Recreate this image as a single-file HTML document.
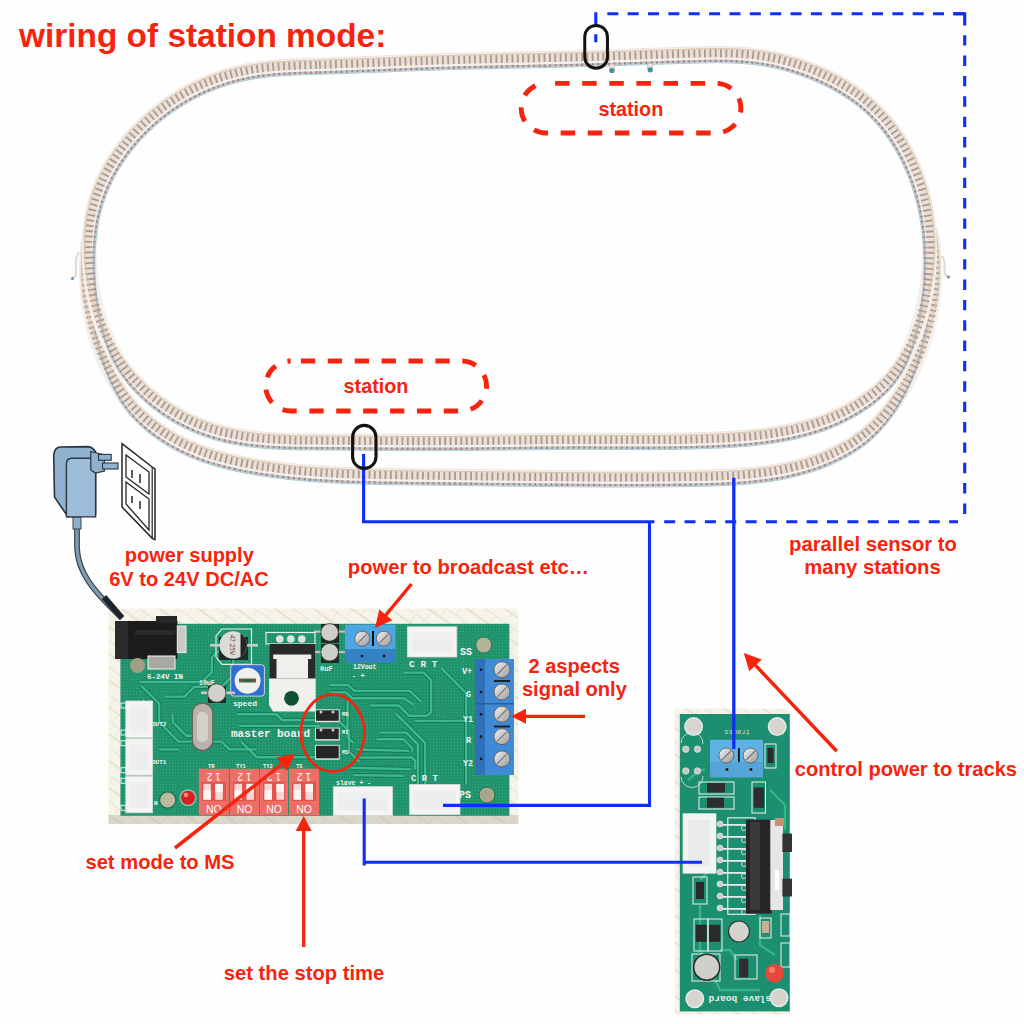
<!DOCTYPE html>
<html><head><meta charset="utf-8"><title>wiring of station mode</title>
<style>html,body{margin:0;padding:0;background:#fff;width:1024px;height:1024px;overflow:hidden}svg{display:block}</style>
</head><body><svg width="1024" height="1024" viewBox="0 0 1024 1024"><defs>
<pattern id="matp" width="22" height="22" patternUnits="userSpaceOnUse" patternTransform="rotate(35)">
<rect width="22" height="22" fill="#f6f4ea"/>
<path d="M0,0 L22,0 M0,11 L22,11" stroke="#e4dec2" stroke-width="1.5"/>
<path d="M11,0 L11,11 M0,11 L0,22" stroke="#ebe6d2" stroke-width="1.1"/>
</pattern>
<pattern id="dots" width="3" height="3" patternUnits="userSpaceOnUse">
<rect width="3" height="3" fill="#21936c"/><rect x="1" y="1" width="1" height="1" fill="#32a880"/>
</pattern>
<linearGradient id="scr" x1="0" y1="0" x2="1" y2="1"><stop offset="0" stop-color="#f2f2f2"/><stop offset="1" stop-color="#9a9a9a"/></linearGradient>
</defs><rect width="1024" height="1024" fill="#fefefe"/><path d="M90.2,232.2 L89.5,236.2 L88.8,240.1 L88.3,244.0 L87.8,248.0 L87.4,251.9 L87.0,255.9 L86.8,259.8 L86.6,263.8 L86.4,267.8 L86.4,271.8 L86.4,275.8 L86.5,279.7 L86.7,283.7 L86.9,287.7 L87.2,291.7 L87.6,295.6 L88.0,299.6 L88.5,303.5 L89.1,307.5 L89.7,311.4 L90.4,315.3 L91.2,319.3 L92.1,323.2 L93.0,327.0 L94.0,330.9 L95.1,334.8 L96.2,338.6 L97.4,342.4 L98.7,346.2 L100.0,350.0 L101.4,353.7 L102.9,357.4 L104.4,361.1 L106.0,364.8 L107.7,368.4 L109.5,372.1 L111.3,375.6 L113.2,379.2 L115.2,382.7 L117.2,386.1 L119.3,389.5 L121.5,392.9 L123.8,396.2 L126.1,399.5 L128.6,402.7 L131.1,405.8 L133.8,408.9 L136.5,411.9 L139.4,414.7 L142.3,417.5 L145.3,420.2 L148.3,422.9 L151.5,425.4 L154.7,427.9 L157.9,430.3 L161.2,432.6 L164.6,434.8 L168.0,436.9 L171.4,439.0 L174.9,441.0 L178.5,442.9 L182.1,444.8 L185.7,446.6 L189.4,448.2 L193.1,449.8 L196.8,451.4 L200.5,452.8 L204.3,454.2 L208.1,455.5 L212.0,456.7 L215.8,457.9 L219.7,459.0 L223.6,460.1 L227.5,461.1 L231.4,462.0 L235.3,462.9 L239.2,463.8 L243.1,464.6 L247.1,465.3 L251.0,466.0 L255.0,466.7 L258.9,467.4 L262.9,468.0 L266.9,468.6 L270.8,469.2 L274.8,469.7 L278.8,470.2 L282.8,470.7 L286.8,471.2 L290.7,471.6 L294.7,472.0 L298.7,472.4 L302.7,472.8 L306.7,473.1 L310.7,473.4 L314.7,473.7 L318.7,474.0 L322.7,474.3 L326.7,474.5 L330.7,474.7 L334.7,474.9 L338.7,475.1 L342.7,475.3 L346.7,475.5 L350.7,475.6 L354.7,475.8 L358.7,475.9 L362.7,476.0 L366.7,476.1 L370.7,476.2 L374.7,476.3 L378.7,476.4 L382.7,476.5 L386.7,476.5 L390.7,476.6 L394.7,476.7 L398.7,476.7 L402.7,476.8 L406.7,476.8 L410.7,476.9 L414.7,476.9 L418.7,477.0 L422.7,477.0 L426.7,477.1 L430.7,477.1 L434.7,477.2 L438.7,477.2 L442.7,477.3 L446.7,477.3 L450.7,477.4 L454.7,477.4 L458.7,477.5 L462.7,477.5 L466.7,477.6 L470.7,477.6 L474.7,477.7 L478.7,477.7 L482.7,477.8 L486.7,477.8 L490.7,477.9 L494.7,477.9 L498.7,478.0 L502.7,478.0 L506.7,478.1 L510.7,478.1 L514.7,478.1 L518.7,478.2 L522.7,478.2 L526.7,478.3 L530.7,478.3 L534.7,478.4 L538.7,478.4 L542.7,478.4 L546.7,478.5 L550.7,478.5 L554.7,478.6 L558.7,478.6 L562.7,478.6 L566.7,478.7 L570.7,478.7 L574.7,478.7 L578.7,478.8 L582.7,478.8 L586.7,478.8 L590.7,478.8 L594.7,478.9 L598.7,478.9 L602.7,478.9 L606.7,478.9 L610.7,478.9 L614.7,478.9 L618.7,478.9 L622.7,479.0 L626.7,479.0 L630.7,479.0 L634.7,478.9 L638.7,478.9 L642.7,478.9 L646.7,478.9 L650.7,478.9 L654.7,478.9 L658.7,478.8 L662.7,478.8 L666.7,478.8 L670.7,478.7 L674.7,478.7 L678.7,478.6 L682.7,478.6 L686.7,478.5 L690.8,478.4 L694.8,478.4 L698.8,478.3 L702.8,478.2 L706.8,478.1 L710.8,478.0 L714.8,477.9 L718.8,477.7 L722.8,477.6 L726.8,477.4 L730.8,477.2 L734.8,476.9 L738.8,476.7 L742.8,476.4 L746.8,476.0 L750.8,475.7 L754.8,475.3 L758.8,474.8 L762.8,474.3 L766.7,473.8 L770.7,473.2 L774.7,472.6 L778.6,471.9 L782.6,471.1 L786.5,470.3 L790.5,469.5 L794.4,468.6 L798.3,467.6 L802.2,466.5 L806.0,465.4 L809.9,464.2 L813.7,462.9 L817.5,461.6 L821.3,460.2 L825.0,458.7 L828.7,457.1 L832.4,455.4 L836.1,453.7 L839.7,451.9 L843.2,450.0 L846.7,448.0 L850.2,446.0 L853.6,443.8 L857.0,441.5 L860.2,439.2 L863.4,436.7 L866.6,434.2 L869.6,431.5 L872.6,428.8 L875.5,425.9 L878.2,423.0 L881.0,420.0 L883.6,417.0 L886.1,413.9 L888.6,410.7 L891.1,407.5 L893.4,404.2 L895.7,400.9 L897.9,397.6 L900.1,394.2 L902.2,390.7 L904.2,387.3 L906.1,383.8 L908.0,380.2 L909.8,376.6 L911.6,373.0 L913.3,369.4 L914.9,365.7 L916.5,362.1 L918.0,358.3 L919.4,354.6 L920.8,350.9 L922.1,347.1 L923.4,343.3 L924.6,339.5 L925.7,335.6 L926.8,331.8 L927.8,327.9 L928.7,324.0 L929.6,320.1 L930.4,316.2 L931.1,312.3 L931.7,308.4 L932.3,304.4 L932.9,300.5 L933.3,296.5 L933.7,292.5 L934.0,288.6 L934.2,284.6 L934.4,280.6 L934.5,276.6 L934.5,272.7 L934.4,268.7 L934.3,264.7 L934.1,260.7 L933.8,256.8 L933.4,252.8 L933.0,248.9 L932.5,244.9 L931.9,241.0 L931.2,237.1 L930.5,233.2 L929.6,229.3" fill="none" stroke="#f4efea" stroke-width="15" stroke-linejoin="round"/><path d="M83.1,231.0 L82.4,235.0 L81.8,239.0 L81.3,243.1 L80.9,247.2 L80.6,251.3 L80.4,255.4 L80.2,259.5 L80.2,263.6 L80.2,267.7 L80.3,271.8 L80.5,275.9 L80.8,280.0 L81.2,284.0 L81.7,288.1 L82.2,292.1 L82.9,296.2 L83.6,300.2 L84.4,304.2 L85.3,308.1 L86.3,312.1 L87.4,316.0 L88.5,319.9 L89.8,323.7 L91.1,327.5 L92.5,331.3 L94.0,335.1 L95.5,338.8 L97.2,342.5 L98.8,346.1 L100.6,349.7 L102.4,353.3 L104.3,356.8 L106.2,360.3 L108.2,363.8 L110.2,367.2 L112.3,370.6 L114.4,373.9 L116.6,377.2 L118.9,380.5 L121.1,383.7 L123.5,386.8 L125.9,389.9 L128.3,393.0 L130.8,395.9 L133.4,398.8 L136.1,401.6 L138.7,404.3 L141.5,407.0 L144.3,409.7 L147.2,412.2 L150.1,414.7 L153.1,417.1 L156.1,419.5 L159.2,421.8 L162.3,424.0 L165.5,426.2 L168.8,428.3 L172.1,430.3 L175.4,432.3 L178.7,434.2 L182.1,436.0 L185.6,437.7 L189.1,439.4 L192.6,441.0 L196.1,442.5 L199.7,444.0 L203.3,445.4 L207.0,446.7 L210.7,447.9 L214.4,449.1 L218.1,450.2 L221.8,451.3 L225.6,452.3 L229.4,453.3 L233.2,454.2 L237.0,455.1 L240.9,455.9 L244.7,456.7 L248.6,457.4 L252.4,458.1 L256.3,458.8 L260.2,459.5 L264.1,460.1 L268.0,460.7 L272.0,461.2 L275.9,461.7 L279.8,462.3 L283.7,462.7 L287.7,463.2 L291.6,463.6 L295.5,464.0 L299.5,464.4 L303.4,464.8 L307.4,465.1 L311.3,465.4 L315.3,465.7 L319.2,466.0 L323.2,466.2 L327.2,466.5 L331.1,466.7 L335.1,466.9 L339.1,467.1 L343.0,467.3 L347.0,467.4 L351.0,467.6 L355.0,467.7 L359.0,467.9 L362.9,468.0 L366.9,468.1 L370.9,468.2 L374.9,468.3 L378.9,468.3 L382.9,468.4 L386.9,468.5 L390.8,468.6 L394.8,468.6 L398.8,468.7 L402.8,468.7 L406.8,468.8 L410.8,468.8 L414.8,468.9 L418.8,468.9 L422.8,469.0 L426.8,469.0 L430.8,469.1 L434.8,469.1 L438.8,469.2 L442.8,469.2 L446.8,469.3 L450.8,469.3 L454.8,469.4 L458.8,469.4 L462.8,469.5 L466.8,469.5 L470.8,469.6 L474.8,469.6 L478.8,469.7 L482.8,469.7 L486.8,469.8 L490.8,469.8 L494.8,469.9 L498.8,469.9 L502.8,469.9 L506.8,470.0 L510.8,470.0 L514.8,470.1 L518.8,470.1 L522.8,470.2 L526.8,470.2 L530.8,470.3 L534.8,470.3 L538.8,470.3 L542.8,470.4 L546.8,470.4 L550.8,470.5 L554.8,470.5 L558.8,470.5 L562.8,470.6 L566.8,470.6 L570.8,470.6 L574.8,470.7 L578.8,470.7 L582.8,470.7 L586.8,470.8 L590.8,470.8 L594.8,470.8 L598.8,470.8 L602.8,470.8 L606.8,470.9 L610.7,470.9 L614.7,470.9 L618.7,470.9 L622.7,470.9 L626.7,470.9 L630.7,470.9 L634.7,470.9 L638.7,470.9 L642.7,470.9 L646.7,470.8 L650.7,470.8 L654.7,470.8 L658.7,470.8 L662.7,470.7 L666.7,470.7 L670.7,470.7 L674.6,470.6 L678.6,470.6 L682.6,470.5 L686.6,470.4 L690.6,470.4 L694.6,470.3 L698.6,470.2 L702.6,470.1 L706.6,470.0 L710.5,469.9 L714.5,469.8 L718.5,469.7 L722.4,469.5 L726.4,469.3 L730.3,469.1 L734.3,468.9 L738.2,468.6 L742.2,468.4 L746.1,468.0 L750.0,467.7 L753.9,467.3 L757.8,466.8 L761.7,466.4 L765.6,465.8 L769.5,465.3 L773.4,464.7 L777.2,464.0 L781.1,463.3 L784.9,462.5 L788.7,461.7 L792.5,460.8 L796.2,459.8 L800.0,458.8 L803.7,457.7 L807.4,456.6 L811.1,455.4 L814.8,454.1 L818.4,452.7 L822.0,451.3 L825.6,449.8 L829.1,448.3 L832.6,446.6 L836.0,444.9 L839.5,443.1 L842.8,441.3 L846.1,439.3 L849.4,437.3 L852.6,435.2 L855.7,433.0 L858.8,430.8 L861.8,428.4 L864.8,426.0 L867.6,423.5 L870.5,420.9 L873.3,418.3 L876.0,415.5 L878.6,412.7 L881.3,409.8 L883.8,406.9 L886.4,403.9 L888.8,400.9 L891.3,397.8 L893.6,394.7 L896.0,391.6 L898.3,388.4 L900.5,385.1 L902.7,381.8 L904.9,378.5 L907.0,375.2 L909.1,371.8 L911.1,368.3 L913.0,364.9 L914.9,361.4 L916.8,357.8 L918.6,354.3 L920.3,350.7 L922.0,347.0 L923.7,343.4 L925.3,339.7 L926.8,336.0 L928.2,332.2 L929.6,328.4 L930.9,324.6 L932.2,320.7 L933.3,316.8 L934.4,312.9 L935.4,309.0 L936.3,305.0 L937.2,301.1 L937.9,297.0 L938.6,293.0 L939.2,289.0 L939.6,284.9 L940.0,280.8 L940.3,276.8 L940.5,272.7 L940.7,268.6 L940.7,264.5 L940.6,260.4 L940.5,256.3 L940.2,252.2 L939.9,248.1 L939.4,244.0 L938.9,239.9 L938.3,235.8 L937.6,231.8 L936.8,227.8" fill="none" stroke="#e4dcd6" stroke-width="0.8" stroke-linejoin="round"/><path d="M88.9,232.0 L88.2,235.9 L87.5,239.9 L87.0,243.9 L86.5,247.8 L86.1,251.8 L85.8,255.8 L85.6,259.8 L85.4,263.8 L85.3,267.8 L85.3,271.8 L85.3,275.8 L85.4,279.8 L85.6,283.8 L85.9,287.8 L86.3,291.7 L86.7,295.7 L87.2,299.7 L87.7,303.7 L88.4,307.6 L89.1,311.5 L89.9,315.5 L90.7,319.4 L91.7,323.3 L92.7,327.1 L93.7,331.0 L94.9,334.8 L96.1,338.6 L97.3,342.4 L98.7,346.2 L100.1,349.9 L101.6,353.6 L103.1,357.3 L104.8,361.0 L106.4,364.6 L108.2,368.2 L110.0,371.8 L111.9,375.3 L113.8,378.8 L115.9,382.3 L117.9,385.7 L120.1,389.0 L122.3,392.4 L124.6,395.6 L127.0,398.8 L129.5,402.0 L132.0,405.1 L134.7,408.1 L137.4,411.0 L140.3,413.8 L143.2,416.5 L146.2,419.2 L149.2,421.8 L152.3,424.3 L155.5,426.7 L158.7,429.1 L162.0,431.4 L165.3,433.6 L168.7,435.7 L172.2,437.8 L175.6,439.8 L179.2,441.7 L182.7,443.5 L186.3,445.2 L190.0,446.9 L193.6,448.5 L197.3,450.0 L201.1,451.4 L204.8,452.8 L208.6,454.1 L212.4,455.3 L216.2,456.5 L220.1,457.6 L223.9,458.6 L227.8,459.6 L231.7,460.6 L235.6,461.5 L239.5,462.3 L243.4,463.1 L247.4,463.9 L251.3,464.6 L255.2,465.3 L259.2,465.9 L263.1,466.5 L267.1,467.1 L271.0,467.7 L275.0,468.2 L279.0,468.8 L283.0,469.2 L286.9,469.7 L290.9,470.1 L294.9,470.5 L298.9,470.9 L302.8,471.3 L306.8,471.6 L310.8,471.9 L314.8,472.2 L318.8,472.5 L322.8,472.8 L326.8,473.0 L330.8,473.3 L334.8,473.5 L338.8,473.7 L342.8,473.8 L346.8,474.0 L350.8,474.1 L354.8,474.3 L358.7,474.4 L362.7,474.5 L366.7,474.6 L370.7,474.7 L374.7,474.8 L378.7,474.9 L382.7,475.0 L386.7,475.1 L390.7,475.1 L394.7,475.2 L398.7,475.2 L402.7,475.3 L406.7,475.3 L410.7,475.4 L414.7,475.4 L418.7,475.5 L422.7,475.5 L426.7,475.6 L430.7,475.6 L434.7,475.7 L438.7,475.7 L442.7,475.8 L446.7,475.8 L450.7,475.9 L454.7,475.9 L458.7,476.0 L462.7,476.0 L466.7,476.1 L470.7,476.1 L474.7,476.2 L478.7,476.2 L482.7,476.3 L486.7,476.3 L490.7,476.4 L494.7,476.4 L498.7,476.5 L502.7,476.5 L506.7,476.6 L510.7,476.6 L514.7,476.7 L518.7,476.7 L522.7,476.7 L526.7,476.8 L530.7,476.8 L534.7,476.9 L538.7,476.9 L542.7,476.9 L546.7,477.0 L550.7,477.0 L554.7,477.1 L558.7,477.1 L562.7,477.1 L566.7,477.2 L570.7,477.2 L574.7,477.2 L578.7,477.3 L582.7,477.3 L586.7,477.3 L590.7,477.4 L594.7,477.4 L598.7,477.4 L602.7,477.4 L606.7,477.4 L610.7,477.4 L614.7,477.4 L618.7,477.5 L622.7,477.5 L626.7,477.5 L630.7,477.5 L634.7,477.5 L638.7,477.4 L642.7,477.4 L646.7,477.4 L650.7,477.4 L654.7,477.4 L658.7,477.3 L662.7,477.3 L666.7,477.3 L670.7,477.2 L674.7,477.2 L678.7,477.1 L682.7,477.1 L686.7,477.0 L690.7,476.9 L694.7,476.9 L698.7,476.8 L702.7,476.7 L706.7,476.6 L710.7,476.5 L714.7,476.4 L718.7,476.2 L722.7,476.1 L726.7,475.9 L730.7,475.7 L734.7,475.4 L738.7,475.2 L742.7,474.9 L746.7,474.6 L750.6,474.2 L754.6,473.8 L758.6,473.4 L762.6,472.9 L766.5,472.3 L770.5,471.7 L774.4,471.1 L778.4,470.4 L782.3,469.7 L786.2,468.9 L790.1,468.0 L794.0,467.1 L797.9,466.1 L801.8,465.1 L805.6,464.0 L809.4,462.8 L813.2,461.5 L817.0,460.2 L820.7,458.8 L824.5,457.3 L828.1,455.7 L831.8,454.1 L835.4,452.4 L839.0,450.6 L842.5,448.7 L846.0,446.8 L849.4,444.7 L852.8,442.6 L856.1,440.4 L859.4,438.0 L862.6,435.6 L865.7,433.1 L868.7,430.5 L871.7,427.8 L874.5,425.0 L877.3,422.1 L880.0,419.2 L882.7,416.2 L885.2,413.1 L887.7,410.0 L890.2,406.8 L892.6,403.6 L894.9,400.3 L897.1,397.0 L899.3,393.7 L901.4,390.3 L903.5,386.9 L905.5,383.4 L907.4,379.9 L909.3,376.4 L911.1,372.8 L912.9,369.2 L914.6,365.6 L916.2,361.9 L917.8,358.3 L919.3,354.6 L920.7,350.8 L922.1,347.1 L923.5,343.3 L924.7,339.5 L925.9,335.7 L927.1,331.9 L928.1,328.0 L929.1,324.1 L930.0,320.2 L930.9,316.3 L931.7,312.4 L932.4,308.5 L933.1,304.5 L933.7,300.6 L934.2,296.6 L934.6,292.6 L934.9,288.6 L935.2,284.7 L935.4,280.7 L935.6,276.7 L935.6,272.7 L935.6,268.7 L935.5,264.7 L935.3,260.7 L935.0,256.7 L934.7,252.7 L934.3,248.7 L933.8,244.7 L933.2,240.8 L932.5,236.8 L931.8,232.9 L931.0,229.0" fill="none" stroke="#eddfd1" stroke-width="8.2" stroke-linejoin="round"/><path d="M95.6,233.2 L94.9,237.1 L94.2,240.9 L93.6,244.7 L93.1,248.5 L92.6,252.4 L92.1,256.2 L91.8,260.1 L91.5,264.0 L91.2,267.9 L91.0,271.8 L90.9,275.7 L90.8,279.6 L90.8,283.5 L90.9,287.4 L91.0,291.3 L91.2,295.2 L91.4,299.1 L91.6,303.1 L92.0,307.0 L92.3,310.9 L92.8,314.8 L93.3,318.8 L93.8,322.7 L94.5,326.6 L95.1,330.6 L95.9,334.5 L96.7,338.4 L97.6,342.3 L98.5,346.3 L99.5,350.2 L100.6,354.0 L101.8,357.9 L103.1,361.8 L104.4,365.6 L105.8,369.4 L107.3,373.2 L108.9,376.9 L110.6,380.7 L112.4,384.3 L114.2,388.0 L116.2,391.6 L118.2,395.2 L120.3,398.8 L122.5,402.3 L124.9,405.7 L127.4,409.1 L130.0,412.4 L132.7,415.5 L135.6,418.6 L138.5,421.6 L141.6,424.5 L144.7,427.2 L147.9,429.9 L151.2,432.5 L154.5,435.0 L157.9,437.4 L161.4,439.8 L164.9,442.0 L168.4,444.2 L172.0,446.3 L175.7,448.3 L179.4,450.2 L183.1,452.0 L186.9,453.8 L190.7,455.4 L194.5,457.0 L198.4,458.5 L202.3,460.0 L206.2,461.3 L210.1,462.6 L214.1,463.8 L218.0,464.9 L222.0,466.0 L226.0,467.0 L230.0,468.0 L234.0,468.9 L238.0,469.8 L241.9,470.6 L246.0,471.4 L250.0,472.1 L254.0,472.8 L258.0,473.5 L262.0,474.1 L266.0,474.7 L270.0,475.3 L274.0,475.8 L278.0,476.3 L282.0,476.8 L286.1,477.3 L290.1,477.7 L294.1,478.2 L298.1,478.5 L302.2,478.9 L306.2,479.3 L310.2,479.6 L314.3,479.9 L318.3,480.2 L322.3,480.4 L326.3,480.7 L330.4,480.9 L334.4,481.1 L338.4,481.3 L342.4,481.5 L346.5,481.6 L350.5,481.8 L354.5,481.9 L358.5,482.1 L362.5,482.2 L366.5,482.3 L370.6,482.4 L374.6,482.5 L378.6,482.6 L382.6,482.6 L386.6,482.7 L390.6,482.8 L394.6,482.8 L398.6,482.9 L402.6,482.9 L406.6,483.0 L410.6,483.1 L414.6,483.1 L418.6,483.2 L422.6,483.2 L426.6,483.3 L430.6,483.3 L434.6,483.4 L438.6,483.4 L442.6,483.5 L446.6,483.5 L450.6,483.6 L454.6,483.6 L458.6,483.7 L462.6,483.7 L466.6,483.8 L470.6,483.8 L474.6,483.8 L478.6,483.9 L482.6,483.9 L486.6,484.0 L490.6,484.0 L494.6,484.1 L498.6,484.1 L502.6,484.2 L506.6,484.2 L510.6,484.3 L514.6,484.3 L518.6,484.4 L522.6,484.4 L526.6,484.4 L530.6,484.5 L534.7,484.5 L538.7,484.6 L542.7,484.6 L546.7,484.7 L550.7,484.7 L554.7,484.7 L558.7,484.8 L562.7,484.8 L566.7,484.8 L570.7,484.9 L574.7,484.9 L578.7,484.9 L582.7,485.0 L586.7,485.0 L590.7,485.0 L594.7,485.0 L598.7,485.1 L602.7,485.1 L606.7,485.1 L610.7,485.1 L614.7,485.1 L618.7,485.1 L622.7,485.1 L626.7,485.1 L630.7,485.1 L634.7,485.1 L638.8,485.1 L642.8,485.1 L646.8,485.1 L650.8,485.0 L654.8,485.0 L658.8,485.0 L662.8,485.0 L666.8,484.9 L670.8,484.9 L674.8,484.8 L678.8,484.8 L682.8,484.7 L686.8,484.7 L690.9,484.6 L694.9,484.5 L698.9,484.4 L702.9,484.4 L706.9,484.3 L710.9,484.1 L715.0,484.0 L719.0,483.9 L723.0,483.7 L727.1,483.5 L731.1,483.3 L735.2,483.1 L739.2,482.8 L743.3,482.5 L747.3,482.2 L751.4,481.8 L755.4,481.4 L759.5,480.9 L763.5,480.4 L767.6,479.9 L771.7,479.3 L775.7,478.6 L779.7,477.9 L783.8,477.2 L787.8,476.4 L791.8,475.5 L795.8,474.5 L799.8,473.5 L803.8,472.4 L807.8,471.2 L811.8,470.0 L815.7,468.7 L819.6,467.3 L823.5,465.8 L827.3,464.3 L831.2,462.7 L834.9,461.0 L838.7,459.2 L842.4,457.3 L846.1,455.3 L849.7,453.2 L853.3,451.0 L856.8,448.7 L860.3,446.4 L863.7,443.9 L867.0,441.3 L870.2,438.5 L873.4,435.7 L876.4,432.7 L879.3,429.7 L882.1,426.6 L884.8,423.4 L887.4,420.2 L889.9,416.9 L892.3,413.6 L894.7,410.2 L896.9,406.8 L899.1,403.3 L901.2,399.7 L903.2,396.2 L905.1,392.6 L907.0,388.9 L908.7,385.2 L910.4,381.5 L912.0,377.8 L913.5,374.0 L915.0,370.2 L916.4,366.4 L917.7,362.6 L918.9,358.7 L920.1,354.9 L921.2,351.0 L922.2,347.1 L923.2,343.2 L924.1,339.3 L924.9,335.4 L925.7,331.5 L926.4,327.5 L927.0,323.6 L927.6,319.7 L928.1,315.7 L928.5,311.8 L928.9,307.9 L929.3,303.9 L929.5,300.0 L929.8,296.1 L929.9,292.2 L930.0,288.2 L930.1,284.3 L930.0,280.4 L930.0,276.5 L929.8,272.6 L929.6,268.8 L929.4,264.9 L929.1,261.0 L928.7,257.2 L928.2,253.3 L927.7,249.5 L927.1,245.6 L926.5,241.8 L925.8,238.0 L925.0,234.3 L924.1,230.4" fill="none" stroke="#c6bdbc" stroke-width="2.4" stroke-linejoin="round"/><path d="M97.3,233.5 L96.6,237.4 L95.9,241.1 L95.2,244.9 L94.7,248.7 L94.2,252.5 L93.7,256.4 L93.3,260.2 L93.0,264.0 L92.7,267.9 L92.5,271.7 L92.3,275.6 L92.2,279.5 L92.1,283.4 L92.1,287.3 L92.2,291.2 L92.3,295.1 L92.4,299.0 L92.6,302.9 L92.9,306.8 L93.2,310.8 L93.5,314.7 L93.9,318.6 L94.4,322.6 L94.9,326.5 L95.5,330.5 L96.1,334.4 L96.8,338.4 L97.6,342.3 L98.5,346.3 L99.4,350.2 L100.4,354.1 L101.5,358.1 L102.6,362.0 L103.9,365.8 L105.2,369.7 L106.7,373.5 L108.2,377.3 L109.8,381.1 L111.5,384.9 L113.3,388.6 L115.2,392.3 L117.2,395.9 L119.2,399.5 L121.4,403.1 L123.7,406.6 L126.2,410.1 L128.8,413.4 L131.6,416.7 L134.4,419.8 L137.4,422.8 L140.4,425.8 L143.6,428.6 L146.8,431.3 L150.1,433.9 L153.5,436.5 L156.9,438.9 L160.4,441.3 L163.9,443.6 L167.5,445.8 L171.1,447.9 L174.8,449.9 L178.5,451.8 L182.3,453.7 L186.1,455.5 L190.0,457.2 L193.8,458.8 L197.7,460.3 L201.7,461.7 L205.6,463.1 L209.6,464.4 L213.5,465.6 L217.5,466.7 L221.5,467.8 L225.5,468.9 L229.5,469.8 L233.5,470.7 L237.6,471.6 L241.6,472.4 L245.6,473.2 L249.6,473.9 L253.6,474.7 L257.7,475.3 L261.7,476.0 L265.7,476.6 L269.7,477.1 L273.8,477.7 L277.8,478.2 L281.8,478.7 L285.9,479.2 L289.9,479.6 L293.9,480.0 L298.0,480.4 L302.0,480.8 L306.0,481.1 L310.1,481.5 L314.1,481.8 L318.2,482.0 L322.2,482.3 L326.2,482.6 L330.3,482.8 L334.3,483.0 L338.3,483.2 L342.3,483.4 L346.4,483.5 L350.4,483.7 L354.4,483.8 L358.5,484.0 L362.5,484.1 L366.5,484.2 L370.5,484.3 L374.5,484.4 L378.6,484.5 L382.6,484.5 L386.6,484.6 L390.6,484.7 L394.6,484.7 L398.6,484.8 L402.6,484.8 L406.6,484.9 L410.6,484.9 L414.6,485.0 L418.6,485.0 L422.6,485.1 L426.6,485.1 L430.6,485.2 L434.6,485.2 L438.6,485.3 L442.6,485.3 L446.6,485.4 L450.6,485.4 L454.6,485.5 L458.6,485.5 L462.6,485.6 L466.6,485.6 L470.6,485.7 L474.6,485.7 L478.6,485.8 L482.6,485.8 L486.6,485.9 L490.6,485.9 L494.6,486.0 L498.6,486.0 L502.6,486.1 L506.6,486.1 L510.6,486.2 L514.6,486.2 L518.6,486.2 L522.6,486.3 L526.6,486.3 L530.6,486.4 L534.6,486.4 L538.6,486.5 L542.6,486.5 L546.6,486.5 L550.6,486.6 L554.6,486.6 L558.6,486.7 L562.6,486.7 L566.6,486.7 L570.7,486.8 L574.7,486.8 L578.7,486.8 L582.7,486.9 L586.7,486.9 L590.7,486.9 L594.7,486.9 L598.7,486.9 L602.7,487.0 L606.7,487.0 L610.7,487.0 L614.7,487.0 L618.7,487.0 L622.7,487.0 L626.7,487.0 L630.7,487.0 L634.7,487.0 L638.8,487.0 L642.8,487.0 L646.8,487.0 L650.8,486.9 L654.8,486.9 L658.8,486.9 L662.8,486.9 L666.8,486.8 L670.8,486.8 L674.8,486.7 L678.9,486.7 L682.9,486.6 L686.9,486.6 L690.9,486.5 L694.9,486.4 L698.9,486.3 L702.9,486.2 L707.0,486.1 L711.0,486.0 L715.0,485.9 L719.1,485.8 L723.1,485.6 L727.2,485.4 L731.2,485.2 L735.3,485.0 L739.4,484.7 L743.4,484.4 L747.5,484.1 L751.6,483.7 L755.6,483.3 L759.7,482.8 L763.8,482.3 L767.9,481.8 L771.9,481.2 L776.0,480.5 L780.1,479.8 L784.1,479.0 L788.2,478.2 L792.3,477.3 L796.3,476.3 L800.3,475.3 L804.3,474.2 L808.3,473.0 L812.3,471.8 L816.3,470.5 L820.2,469.1 L824.1,467.6 L828.0,466.0 L831.9,464.4 L835.7,462.6 L839.5,460.8 L843.3,458.9 L847.0,456.9 L850.7,454.8 L854.3,452.6 L857.8,450.3 L861.3,447.8 L864.8,445.3 L868.1,442.7 L871.4,439.9 L874.5,437.0 L877.5,434.0 L880.4,430.9 L883.2,427.7 L885.9,424.5 L888.5,421.2 L891.0,417.9 L893.4,414.5 L895.8,411.0 L898.0,407.5 L900.1,404.0 L902.2,400.4 L904.2,396.8 L906.0,393.1 L907.8,389.4 L909.5,385.7 L911.1,381.9 L912.7,378.1 L914.1,374.3 L915.5,370.5 L916.8,366.6 L918.0,362.7 L919.2,358.9 L920.3,355.0 L921.3,351.0 L922.3,347.1 L923.1,343.2 L923.9,339.3 L924.7,335.3 L925.3,331.4 L925.9,327.4 L926.5,323.5 L927.0,319.5 L927.4,315.6 L927.8,311.6 L928.1,307.7 L928.3,303.8 L928.5,299.9 L928.7,296.0 L928.8,292.1 L928.8,288.2 L928.8,284.3 L928.7,280.4 L928.6,276.5 L928.4,272.6 L928.2,268.8 L927.9,264.9 L927.5,261.1 L927.1,257.3 L926.6,253.5 L926.1,249.7 L925.5,245.9 L924.8,242.1 L924.1,238.3 L923.3,234.6 L922.5,230.8" fill="none" stroke="#9cc4d0" stroke-width="0.9" stroke-linejoin="round"/><path d="M84.8,231.3L92.9,232.7M83.9,236.6L92.0,237.9M83.1,242.0L91.2,243.1M82.4,247.4L90.6,248.3M81.9,252.9L90.1,253.5M81.5,258.3L89.7,258.8M81.3,263.7L89.5,264.0M81.2,269.2L89.4,269.3M89.4,274.5L81.2,274.6M89.5,279.8L81.4,280.1M89.8,285.0L81.7,285.5M90.2,290.2L82.1,291.0M90.8,295.4L82.6,296.4M91.5,300.7L83.3,301.8M92.3,305.8L84.2,307.2M93.2,311.0L85.1,312.6M94.2,316.2L86.2,317.9M95.4,321.3L87.4,323.2M96.7,326.4L88.8,328.5M98.1,331.4L90.3,333.7M99.7,336.4L91.9,338.9M101.3,341.4L93.6,344.1M103.1,346.3L95.5,349.2M105.0,351.2L97.4,354.3M107.1,356.1L99.5,359.3M109.2,360.9L101.8,364.3M111.5,365.6L104.1,369.2M113.9,370.3L106.6,374.1M116.4,374.9L109.2,378.9M119.0,379.4L111.9,383.6M121.7,383.9L114.7,388.3M124.5,388.3L117.7,392.9M127.5,392.6L120.8,397.4M130.6,396.8L124.1,401.8M133.8,400.8L127.6,406.1M137.2,404.7L131.2,410.2M140.8,408.5L134.9,414.3M144.5,412.2L138.9,418.1M148.4,415.7L142.9,421.8M152.3,419.0L147.1,425.4M156.4,422.3L151.4,428.8M160.6,425.4L155.8,432.0M164.9,428.4L160.3,435.2M169.3,431.2L164.9,438.2M173.7,433.9L169.6,441.0M178.3,436.5L174.3,443.7M182.9,439.0L179.2,446.3M187.6,441.3L184.1,448.7M192.3,443.5L189.0,451.0M197.2,445.5L194.1,453.1M202.0,447.4L199.1,455.1M207.0,449.2L204.3,457.0M212.0,450.9L209.4,458.7M217.0,452.4L214.6,460.3M222.0,453.9L219.9,461.8M227.1,455.2L225.1,463.2M232.3,456.5L230.4,464.5M237.4,457.7L235.7,465.7M242.6,458.7L241.0,466.8M247.8,459.8L246.3,467.8M253.0,460.7L251.6,468.8M258.2,461.6L256.9,469.7M263.5,462.4L262.2,470.6M268.7,463.2L267.5,471.3M274.0,464.0L272.9,472.1M279.2,464.7L278.2,472.8M284.5,465.3L283.6,473.4M289.8,465.9L288.9,474.0M295.1,466.4L294.3,474.6M300.4,466.9L299.6,475.1M305.7,467.4L305.0,475.6M311.0,467.8L310.4,476.0M316.3,468.2L315.7,476.4M321.6,468.6L321.1,476.8M326.9,468.9L326.4,477.1M332.2,469.2L331.8,477.4M337.6,469.5L337.2,477.7M342.9,469.7L342.5,477.9M348.2,469.9L347.9,478.1M353.5,470.1L353.3,478.3M358.9,470.3L358.6,478.5M364.2,470.5L364.0,478.7M369.6,470.6L369.4,478.8M374.9,470.7L374.7,478.9M380.2,470.8L380.1,479.0M385.6,470.9L385.4,479.1M390.9,471.0L390.8,479.2M396.3,471.1L396.1,479.3M401.6,471.2L401.5,479.4M406.9,471.2L406.8,479.4M412.3,471.3L412.2,479.5M417.6,471.4L417.5,479.6M423.0,471.4L422.9,479.6M428.3,471.5L428.2,479.7M433.7,471.6L433.6,479.8M439.0,471.6L438.9,479.8M444.4,471.7L444.3,479.9M449.7,471.8L449.6,480.0M455.1,471.8L455.0,480.0M460.4,471.9L460.3,480.1M465.8,472.0L465.7,480.2M471.1,472.0L471.0,480.2M476.5,472.1L476.4,480.3M481.8,472.2L481.7,480.4M487.2,472.2L487.1,480.4M492.5,472.3L492.4,480.5M497.9,472.4L497.8,480.6M503.2,472.4L503.1,480.6M508.6,472.5L508.5,480.7M513.9,472.5L513.8,480.7M519.3,472.6L519.2,480.8M524.6,472.7L524.5,480.9M530.0,472.7L529.9,480.9M535.3,472.8L535.2,481.0M540.7,472.8L540.6,481.0M546.0,472.9L545.9,481.1M551.4,472.9L551.3,481.1M556.7,473.0L556.6,481.2M562.1,473.0L562.0,481.2M567.4,473.1L567.4,481.3M572.8,473.1L572.7,481.3M578.1,473.2L578.1,481.4M583.5,473.2L583.4,481.4M588.8,473.2L588.8,481.4M594.2,473.3L594.1,481.5M599.5,473.3L599.5,481.5M604.8,473.3L604.8,481.5M610.2,473.3L610.2,481.5M615.5,473.4L615.5,481.6M620.9,473.4L620.9,481.6M626.2,473.4L626.2,481.6M631.6,473.4L631.6,481.6M636.9,473.3L636.9,481.5M642.3,473.3L642.3,481.5M647.6,473.3L647.7,481.5M653.0,473.3L653.0,481.5M658.3,473.2L658.4,481.4M663.6,473.2L663.7,481.4M669.0,473.1L669.1,481.3M674.3,473.1L674.4,481.3M679.7,473.0L679.8,481.2M685.0,472.9L685.1,481.1M690.4,472.8L690.5,481.0M695.7,472.7L695.9,480.9M701.0,472.6L701.2,480.8M706.4,472.5L706.6,480.7M711.7,472.4L712.0,480.6M717.0,472.2L717.3,480.4M722.3,472.0L722.7,480.2M727.7,471.7L728.1,479.9M733.0,471.4L733.4,479.6M738.3,471.1L738.8,479.3M743.5,470.7L744.2,478.9M748.8,470.2L749.6,478.4M754.1,469.7L755.0,477.9M759.4,469.1L760.3,477.3M764.6,468.5L765.7,476.6M769.8,467.7L771.1,475.8M775.0,466.9L776.4,474.9M780.2,465.9L781.8,474.0M785.4,464.9L787.1,472.9M790.5,463.7L792.4,471.7M795.6,462.5L797.7,470.4M800.7,461.1L802.9,469.0M805.7,459.6L808.2,467.5M810.7,458.0L813.3,465.8M815.7,456.3L818.5,464.0M820.6,454.4L823.6,462.1M825.4,452.4L828.7,460.0M830.2,450.3L833.7,457.8M834.9,448.1L838.6,455.4M839.6,445.7L843.5,452.9M844.1,443.1L848.2,450.2M848.6,440.4L852.9,447.4M852.9,437.6L857.5,444.4M857.2,434.6L862.0,441.2M861.3,431.4L866.4,437.8M865.2,428.1L870.6,434.3M869.1,424.6L874.7,430.5M872.8,420.9L878.6,426.7M876.3,417.1L882.4,422.7M879.8,413.2L886.0,418.6M883.1,409.2L889.5,414.3M886.4,405.1L892.9,410.1M889.5,400.9L896.1,405.7M892.5,396.6L899.3,401.2M895.4,392.2L902.3,396.7M898.2,387.8L905.2,392.0M900.9,383.2L908.0,387.3M903.4,378.7L910.6,382.6M905.9,374.0L913.2,377.8M908.3,369.3L915.6,372.9M910.5,364.6L918.0,368.0M912.7,359.8L920.2,363.1M914.7,354.9L922.3,358.0M916.6,350.0L924.3,353.0M918.5,345.1L926.2,347.9M920.2,340.1L928.0,342.7M921.8,335.1L929.6,337.6M923.3,330.1L931.2,332.3M924.7,325.0L932.6,327.1M925.9,319.9L933.9,321.8M927.0,314.8L935.1,316.5M928.0,309.6L936.1,311.1M928.9,304.5L937.0,305.8M929.7,299.3L937.8,300.4M930.3,294.1L938.5,294.9M930.8,288.8L939.0,289.5M931.2,283.6L939.4,284.1M931.4,278.4L939.6,278.6M931.5,273.1L939.7,273.2M939.6,267.7L931.5,267.9M939.5,262.3L931.3,262.6M939.1,256.8L931.0,257.4M938.7,251.4L930.5,252.2M938.0,245.9L929.9,247.0M937.3,240.5L929.2,241.8M936.4,235.2L928.3,236.6M935.3,229.9L927.3,231.4" stroke="#a99d9c" stroke-width="1.9"/><path d="M94.6,233.0L96.7,233.4M93.6,238.2L95.7,238.5M92.8,243.3L94.8,243.6M92.0,248.5L94.1,248.7M91.4,253.6L93.4,253.8M90.9,258.8L92.9,259.0M90.5,264.0L92.4,264.1M90.2,269.3L92.1,269.3M90.1,274.5L91.8,274.5M90.0,279.7L91.7,279.7M90.1,285.0L91.6,284.9M90.2,290.2L91.7,290.1M90.5,295.5L91.9,295.3M90.8,300.7L92.1,300.6M91.3,306.0L92.5,305.8M91.9,311.3L92.9,311.1M92.6,316.5L93.4,316.3M107.9,373.4L107.1,373.8M110.2,378.3L109.2,378.9M112.5,383.2L111.5,383.9M115.0,388.1L113.9,388.8M117.7,392.9L116.5,393.7M120.5,397.6L119.2,398.5M123.5,402.2L122.1,403.3M126.8,406.7L125.3,407.9M130.2,411.1L128.8,412.4M133.9,415.3L132.4,416.7M137.7,419.3L136.3,420.8M141.8,423.2L140.3,424.8M145.9,426.8L144.5,428.5M150.2,430.3L148.9,432.1M154.6,433.7L153.3,435.5M159.2,436.9L157.9,438.8M163.8,440.0L162.5,441.9M168.5,442.9L167.3,444.9M173.3,445.6L172.2,447.7M178.2,448.2L177.1,450.3M183.1,450.7L182.1,452.8M188.1,453.0L187.2,455.2M193.2,455.2L192.3,457.4M198.3,457.2L197.5,459.4M203.5,459.1L202.7,461.4M208.7,460.9L208.0,463.1M214.0,462.5L213.3,464.8M219.2,464.0L218.6,466.3M224.5,465.4L224.0,467.7M229.8,466.7L229.3,469.1M235.2,467.9L234.7,470.3M240.5,469.1L240.0,471.4M245.8,470.1L245.4,472.5M251.2,471.1L250.8,473.4M256.5,472.0L256.1,474.4M261.9,472.9L261.5,475.2M267.2,473.7L266.9,476.0M272.6,474.4L272.2,476.8M277.9,475.1L277.6,477.5M283.3,475.8L283.0,478.1M288.7,476.4L288.4,478.8M294.0,476.9L293.8,479.3M299.4,477.5L299.2,479.8M304.8,477.9L304.6,480.3M310.2,478.4L310.0,480.8M315.6,478.8L315.4,481.2M320.9,479.1L320.8,481.5M326.3,479.5L326.2,481.9M331.7,479.8L331.6,482.2M337.1,480.0L336.9,482.4M342.4,480.3L342.3,482.7M347.8,480.5L347.7,482.9M353.2,480.7L353.1,483.1M358.6,480.9L358.5,483.3M363.9,481.0L363.9,483.4M369.3,481.2L369.2,483.6M374.7,481.3L374.6,483.7M380.0,481.4L380.0,483.8M385.4,481.5L385.3,483.9M390.7,481.6L390.7,484.0M396.1,481.7L396.1,484.1M401.5,481.7L401.4,484.1M406.8,481.8L406.8,484.2M412.2,481.9L412.1,484.3M417.5,481.9L417.5,484.3M422.9,482.0L422.8,484.4M428.2,482.1L428.2,484.5M433.6,482.1L433.5,484.5M438.9,482.2L438.9,484.6M444.3,482.3L444.2,484.7M449.6,482.3L449.6,484.7M455.0,482.4L454.9,484.8M460.3,482.5L460.3,484.9M465.7,482.5L465.6,484.9M471.0,482.6L471.0,485.0M476.4,482.7L476.3,485.1M481.7,482.7L481.7,485.1M487.1,482.8L487.0,485.2M492.4,482.9L492.4,485.3M497.8,482.9L497.7,485.3M503.1,483.0L503.1,485.4M508.5,483.0L508.4,485.4M513.8,483.1L513.8,485.5M519.2,483.2L519.1,485.6M524.5,483.2L524.5,485.6M529.9,483.3L529.8,485.7M535.2,483.3L535.2,485.7M540.6,483.4L540.5,485.8M545.9,483.4L545.9,485.8M551.3,483.5L551.2,485.9M556.6,483.6L556.6,485.9M562.0,483.6L562.0,486.0M567.3,483.6L567.3,486.0M572.7,483.7L572.7,486.1M578.0,483.7L578.0,486.1M583.4,483.8L583.4,486.2M588.7,483.8L588.7,486.2M594.1,483.8L594.1,486.2M599.5,483.9L599.4,486.3M604.8,483.9L604.8,486.3M610.2,483.9L610.2,486.3M615.5,483.9L615.5,486.3M620.9,483.9L620.9,486.3M626.2,483.9L626.2,486.3M631.6,483.9L631.6,486.3M637.0,483.9L637.0,486.3M642.3,483.9L642.3,486.3M647.7,483.9L647.7,486.3M653.0,483.8L653.0,486.2M658.4,483.8L658.4,486.2M663.7,483.8L663.8,486.1M669.1,483.7L669.1,486.1M674.5,483.6L674.5,486.0M679.8,483.6L679.9,486.0M685.2,483.5L685.2,485.9M690.5,483.4L690.6,485.8M695.9,483.3L696.0,485.7M701.3,483.2L701.3,485.6M706.6,483.1L706.7,485.5M712.0,482.9L712.1,485.3M717.4,482.7L717.5,485.1M722.8,482.5L722.9,484.9M728.2,482.3L728.3,484.7M733.6,482.0L733.7,484.4M739.0,481.6L739.2,484.0M744.4,481.2L744.6,483.6M749.8,480.8L750.0,483.1M755.2,480.2L755.5,482.6M760.6,479.6L760.9,482.0M766.0,478.9L766.3,481.3M771.4,478.1L771.8,480.5M776.8,477.2L777.2,479.6M782.2,476.3L782.6,478.6M787.6,475.2L788.1,477.5M792.9,474.0L793.5,476.3M798.3,472.7L798.8,475.0M803.6,471.2L804.2,473.5M808.8,469.7L809.5,471.9M814.1,468.0L814.8,470.2M819.3,466.2L820.1,468.4M824.4,464.2L825.3,466.4M829.5,462.1L830.5,464.2M834.6,459.8L835.6,461.9M839.6,457.4L840.6,459.5M844.5,454.8L845.6,456.9M849.3,452.1L850.5,454.1M854.1,449.2L855.3,451.1M858.7,446.1L860.0,448.0M863.2,442.8L864.6,444.6M867.6,439.3L869.0,441.0M871.8,435.6L873.3,437.3M875.9,431.7L877.3,433.3M879.7,427.7L881.2,429.1M883.4,423.6L884.8,424.9M886.9,419.3L888.3,420.5M890.2,414.9L891.6,416.1M893.4,410.5L894.8,411.5M896.5,405.9L897.8,406.9M899.4,401.3L900.7,402.2M902.1,396.6L903.4,397.4M904.8,391.8L905.9,392.5M907.2,386.9L908.3,387.5M909.6,382.0L910.5,382.6M911.8,377.1L912.6,377.5M928.6,315.1L927.7,314.9M929.3,309.9L928.2,309.7M929.8,304.6L928.6,304.4M930.2,299.3L928.9,299.2M930.5,294.1L929.1,293.9M930.8,288.8L929.2,288.7M930.9,283.6L929.2,283.5M930.9,278.4L929.1,278.3M930.7,273.1L929.0,273.1M930.5,267.9L928.6,267.9M930.2,262.7L928.2,262.8M929.7,257.5L927.7,257.6M929.1,252.3L927.1,252.5M928.4,247.2L926.3,247.4M927.6,242.0L925.5,242.4M926.6,236.9L924.5,237.3M925.6,231.8L923.4,232.2" stroke="#928a90" stroke-width="1.9"/><path d="M84.8,231.3 L84.1,235.3 L83.6,239.3 L83.0,243.3 L82.6,247.4 L82.3,251.5 L82.0,255.5 L81.8,259.6 L81.7,263.7 L81.7,267.7 L81.8,271.8 L82.0,275.9 L82.2,279.9 L82.5,284.0 L82.9,288.0 L83.4,292.0 L84.0,296.0 L84.7,300.0 L85.4,304.0 L86.2,308.0 L87.2,311.9 L88.1,315.8 L89.2,319.7 L90.4,323.6 L91.6,327.4 L92.9,331.2 L94.3,335.0 L95.7,338.8 L97.2,342.5 L98.8,346.2 L100.4,349.8 L102.2,353.4 L103.9,357.0 L105.8,360.5 L107.7,364.0 L109.6,367.5 L111.6,370.9 L113.7,374.3 L115.8,377.7 L118.0,381.0 L120.2,384.3 L122.5,387.5 L124.8,390.7 L127.2,393.8 L129.7,396.8 L132.2,399.8 L134.8,402.7 L137.5,405.5 L140.3,408.2 L143.1,410.9 L146.0,413.5 L148.9,416.1 L151.9,418.5 L155.0,421.0 L158.1,423.3 L161.2,425.6 L164.5,427.8 L167.7,429.9 L171.0,432.0 L174.4,433.9 L177.8,435.9 L181.2,437.7 L184.7,439.5 L188.2,441.2 L191.8,442.8 L195.4,444.3 L199.0,445.8 L202.6,447.2 L206.3,448.5 L210.0,449.8 L213.8,451.0 L217.5,452.1 L221.3,453.2 L225.1,454.2 L228.9,455.2 L232.7,456.1 L236.6,457.0 L240.4,457.8 L244.3,458.6 L248.2,459.4 L252.1,460.1 L256.0,460.8 L259.9,461.4 L263.8,462.0 L267.8,462.6 L271.7,463.2 L275.6,463.7 L279.5,464.2 L283.5,464.7 L287.4,465.2 L291.4,465.6 L295.3,466.0 L299.3,466.4 L303.2,466.7 L307.2,467.1 L311.2,467.4 L315.1,467.7 L319.1,468.0 L323.1,468.2 L327.0,468.5 L331.0,468.7 L335.0,468.9 L339.0,469.1 L343.0,469.3 L346.9,469.4 L350.9,469.6 L354.9,469.7 L358.9,469.8 L362.9,470.0 L366.9,470.1 L370.9,470.2 L374.8,470.3 L378.8,470.3 L382.8,470.4 L386.8,470.5 L390.8,470.5 L394.8,470.6 L398.8,470.7 L402.8,470.7 L406.8,470.8 L410.8,470.8 L414.8,470.9 L418.8,470.9 L422.8,471.0 L426.8,471.0 L430.8,471.1 L434.8,471.1 L438.8,471.2 L442.8,471.2 L446.8,471.3 L450.8,471.3 L454.8,471.4 L458.8,471.4 L462.8,471.5 L466.8,471.5 L470.8,471.6 L474.8,471.6 L478.8,471.7 L482.8,471.7 L486.8,471.8 L490.8,471.8 L494.8,471.8 L498.8,471.9 L502.8,471.9 L506.8,472.0 L510.8,472.0 L514.8,472.1 L518.8,472.1 L522.8,472.2 L526.8,472.2 L530.8,472.2 L534.8,472.3 L538.8,472.3 L542.8,472.4 L546.8,472.4 L550.8,472.5 L554.8,472.5 L558.8,472.5 L562.8,472.6 L566.8,472.6 L570.8,472.6 L574.8,472.7 L578.8,472.7 L582.8,472.7 L586.8,472.8 L590.8,472.8 L594.8,472.8 L598.7,472.8 L602.7,472.8 L606.7,472.9 L610.7,472.9 L614.7,472.9 L618.7,472.9 L622.7,472.9 L626.7,472.9 L630.7,472.9 L634.7,472.9 L638.7,472.9 L642.7,472.9 L646.7,472.8 L650.7,472.8 L654.7,472.8 L658.7,472.8 L662.7,472.7 L666.7,472.7 L670.7,472.6 L674.7,472.6 L678.7,472.5 L682.7,472.5 L686.7,472.4 L690.6,472.4 L694.6,472.3 L698.6,472.2 L702.6,472.1 L706.6,472.0 L710.6,471.9 L714.6,471.8 L718.5,471.7 L722.5,471.5 L726.5,471.3 L730.5,471.1 L734.4,470.9 L738.4,470.6 L742.3,470.3 L746.3,470.0 L750.2,469.7 L754.1,469.3 L758.1,468.8 L762.0,468.3 L765.9,467.8 L769.8,467.2 L773.7,466.6 L777.6,465.9 L781.4,465.2 L785.3,464.4 L789.1,463.6 L792.9,462.7 L796.8,461.7 L800.5,460.7 L804.3,459.6 L808.0,458.4 L811.8,457.2 L815.5,455.9 L819.1,454.6 L822.8,453.1 L826.4,451.6 L829.9,450.0 L833.4,448.4 L836.9,446.6 L840.4,444.8 L843.8,442.9 L847.1,441.0 L850.4,438.9 L853.7,436.8 L856.8,434.5 L859.9,432.2 L863.0,429.9 L866.0,427.4 L868.9,424.8 L871.7,422.2 L874.5,419.4 L877.2,416.6 L879.9,413.8 L882.5,410.8 L885.0,407.8 L887.5,404.8 L890.0,401.7 L892.4,398.6 L894.7,395.4 L897.0,392.2 L899.2,388.9 L901.4,385.7 L903.6,382.3 L905.7,378.9 L907.7,375.5 L909.7,372.1 L911.6,368.6 L913.5,365.1 L915.3,361.5 L917.1,358.0 L918.8,354.4 L920.5,350.7 L922.1,347.1 L923.6,343.4 L925.1,339.6 L926.5,335.9 L927.9,332.1 L929.2,328.3 L930.4,324.4 L931.5,320.6 L932.6,316.7 L933.6,312.8 L934.5,308.8 L935.4,304.9 L936.1,300.9 L936.8,296.9 L937.4,292.9 L937.9,288.9 L938.3,284.8 L938.6,280.8 L938.9,276.7 L939.0,272.7 L939.1,268.6 L939.1,264.5 L939.0,260.5 L938.8,256.4 L938.5,252.3 L938.2,248.3 L937.7,244.2 L937.2,240.2 L936.6,236.1 L935.8,232.1 L935.0,228.1" fill="none" stroke="#d9c3a4" stroke-width="1.0" stroke-linejoin="round"/><path d="M320.0,66.2 L324.0,66.1 L328.0,66.0 L332.0,65.8 L336.0,65.7 L340.0,65.6 L344.0,65.4 L348.0,65.3 L352.0,65.1 L356.0,65.0 L360.0,64.8 L364.0,64.7 L368.0,64.5 L372.0,64.4 L376.0,64.2 L380.0,64.1 L384.0,63.9 L388.0,63.8 L392.0,63.6 L395.9,63.4 L399.9,63.3 L403.9,63.1 L407.9,63.0 L411.9,62.8 L415.9,62.7 L419.9,62.5 L423.9,62.4 L427.9,62.2 L431.9,62.1 L435.9,62.0 L439.9,61.8 L443.9,61.7 L447.9,61.6 L451.9,61.5 L455.9,61.4 L459.9,61.3 L463.9,61.2 L467.9,61.1 L471.9,61.0 L475.9,60.9 L479.9,60.8 L483.9,60.7 L487.9,60.6 L491.9,60.5 L495.9,60.4 L499.9,60.4 L503.9,60.3 L507.9,60.2 L511.9,60.1 L515.9,60.1 L519.9,60.0 L523.9,59.9 L527.9,59.8 L531.9,59.8 L535.9,59.7 L539.9,59.6 L543.9,59.5 L547.9,59.4 L551.9,59.3 L555.9,59.3 L559.9,59.2 L563.9,59.1 L567.9,59.0 L571.9,58.9 L575.9,58.8 L579.9,58.7 L583.9,58.5 L587.9,58.4 L591.9,58.3 L595.9,58.2 L599.9,58.1 L603.9,57.9 L607.9,57.8 L611.9,57.7 L615.9,57.6 L619.9,57.4 L623.9,57.3 L627.9,57.2 L631.8,57.0 L635.8,56.9 L639.8,56.8 L643.8,56.6 L647.8,56.5 L651.8,56.4 L655.8,56.2 L659.8,56.1 L663.8,56.0 L667.8,55.8 L671.8,55.7 L675.8,55.6 L679.8,55.5 L683.8,55.3 L687.8,55.2 L691.8,55.1 L695.8,55.0 L699.8,54.9 L703.8,54.8 L707.8,54.7 L711.8,54.7 L715.8,54.7 L719.8,54.7 L723.7,54.7 L727.7,54.8 L731.7,54.9 L735.7,55.1 L739.7,55.3 L743.6,55.6 L747.6,55.9 L751.6,56.3 L755.5,56.7 L759.4,57.2 L763.4,57.8 L767.3,58.5 L771.2,59.2 L775.1,60.0 L779.0,60.9 L782.8,61.8 L786.7,62.8 L790.5,63.9 L794.3,65.0 L798.1,66.2 L801.9,67.5 L805.6,68.8 L809.3,70.2 L813.0,71.7 L816.7,73.2 L820.4,74.8 L824.0,76.4 L827.6,78.1 L831.1,79.9 L834.6,81.7 L838.1,83.6 L841.6,85.6 L845.0,87.6 L848.3,89.7 L851.7,91.9 L854.9,94.2 L858.1,96.5 L861.3,98.9 L864.4,101.4 L867.4,103.9 L870.4,106.5 L873.3,109.2 L876.1,112.0 L878.9,114.8 L881.6,117.8 L884.2,120.7 L886.7,123.8 L889.2,126.9 L891.6,130.1 L893.9,133.3 L896.1,136.6 L898.3,139.9 L900.4,143.3 L902.4,146.7 L904.3,150.1 L906.2,153.6 L908.0,157.2 L909.7,160.7 L911.4,164.4 L913.0,168.0 L914.5,171.7 L915.9,175.4 L917.3,179.1 L918.6,182.9 L919.8,186.6 L921.0,190.4 L922.0,194.3 L923.0,198.1 L924.0,202.0 L924.8,205.8 L925.6,209.7 L926.3,213.7 L927.0,217.6 L927.5,221.5 L928.0,225.5 L928.5,229.4 L928.8,233.4 L929.1,237.3 L929.3,241.3 L929.4,245.3 L929.5,249.3 L929.5,253.2 L929.4,257.2 L929.3,261.2 L929.1,265.2 L928.8,269.2 L928.5,273.1 L928.1,277.1 L927.7,281.1 L927.2,285.0 L926.6,289.0 L925.9,292.9 L925.2,296.8 L924.5,300.8 L923.7,304.7 L922.8,308.6 L921.9,312.4 L920.9,316.3 L919.8,320.2 L918.7,324.0 L917.5,327.8 L916.2,331.6 L914.9,335.4 L913.4,339.1 L911.9,342.8 L910.3,346.5 L908.6,350.2 L906.8,353.8 L905.0,357.3 L903.0,360.8 L900.9,364.3 L898.7,367.6 L896.4,370.9 L894.0,374.2 L891.4,377.3 L888.8,380.4 L886.1,383.4 L883.2,386.3 L880.3,389.0 L877.3,391.7 L874.2,394.3 L871.0,396.8 L867.8,399.3 L864.5,401.6 L861.2,403.8 L857.8,406.0 L854.3,408.1 L850.8,410.1 L847.3,412.0 L843.7,413.8 L840.0,415.6 L836.4,417.3 L832.7,418.9 L829.0,420.4 L825.2,421.9 L821.4,423.3 L817.6,424.6 L813.8,425.8 L809.9,427.0 L806.1,428.1 L802.2,429.1 L798.3,430.1 L794.4,431.0 L790.4,431.9 L786.5,432.7 L782.5,433.5 L778.6,434.2 L774.6,434.8 L770.7,435.4 L766.7,436.0 L762.7,436.5 L758.7,437.0 L754.7,437.4 L750.7,437.8 L746.7,438.2 L742.7,438.5 L738.7,438.8 L734.7,439.1 L730.7,439.4 L726.7,439.6 L722.7,439.8 L718.7,440.0 L714.7,440.2 L710.7,440.4 L706.7,440.5 L702.7,440.7 L698.7,440.8 L694.7,440.9 L690.7,441.0 L686.7,441.1 L682.7,441.2 L678.7,441.2 L674.7,441.3 L670.7,441.4 L666.7,441.4 L662.7,441.4 L658.7,441.5 L654.7,441.5 L650.7,441.5 L646.7,441.5 L642.7,441.5 L638.7,441.5 L634.7,441.5 L630.7,441.5 L626.7,441.5 L622.7,441.5 L618.7,441.5 L614.7,441.4 L610.7,441.4 L606.7,441.4 L602.7,441.4 L598.7,441.4 L594.7,441.4 L590.7,441.4 L586.7,441.4 L582.7,441.4 L578.7,441.4 L574.7,441.4 L570.7,441.4 L566.7,441.4 L562.7,441.4 L558.7,441.4 L554.7,441.5 L550.7,441.5 L546.7,441.5 L542.7,441.6 L538.7,441.6 L534.7,441.6 L530.7,441.7 L526.7,441.7 L522.7,441.8 L518.7,441.8 L514.7,441.9 L510.7,441.9 L506.7,442.0 L502.7,442.0 L498.7,442.1 L494.7,442.1 L490.7,442.2 L486.7,442.2 L482.7,442.3 L478.7,442.3 L474.7,442.4 L470.7,442.4 L466.7,442.4 L462.7,442.5 L458.7,442.5 L454.7,442.5 L450.7,442.6 L446.7,442.6 L442.7,442.6 L438.7,442.6 L434.7,442.6 L430.7,442.6 L426.7,442.6 L422.7,442.6 L418.7,442.6 L414.7,442.6 L410.7,442.6 L406.7,442.6 L402.7,442.5 L398.7,442.5 L394.7,442.5 L390.7,442.5 L386.7,442.4 L382.7,442.4 L378.7,442.4 L374.7,442.4 L370.7,442.3 L366.7,442.3 L362.7,442.3 L358.7,442.2 L354.7,442.2 L350.7,442.2 L346.7,442.2 L342.7,442.1 L338.7,442.1 L334.7,442.1 L330.7,442.1 L326.7,442.0 L322.7,442.0 L318.7,442.0 L314.7,442.0 L310.7,442.0 L306.7,441.9 L302.7,441.9 L298.7,441.8 L294.7,441.7 L290.7,441.6 L286.6,441.5 L282.6,441.4 L278.6,441.2 L274.6,441.0 L270.6,440.7 L266.6,440.4 L262.6,440.1 L258.6,439.7 L254.6,439.3 L250.6,438.8 L246.6,438.3 L242.7,437.7 L238.7,437.0 L234.7,436.3 L230.8,435.5 L226.8,434.6 L222.9,433.7 L219.0,432.7 L215.1,431.6 L211.3,430.4 L207.5,429.1 L203.7,427.8 L199.9,426.3 L196.2,424.8 L192.5,423.2 L188.8,421.5 L185.2,419.7 L181.6,417.8 L178.1,415.9 L174.6,413.9 L171.2,411.8 L167.8,409.6 L164.4,407.3 L161.1,405.0 L157.9,402.6 L154.7,400.1 L151.6,397.6 L148.5,395.0 L145.5,392.3 L142.6,389.5 L139.7,386.7 L136.9,383.8 L134.2,380.8 L131.5,377.8 L128.9,374.7 L126.4,371.6 L124.0,368.4 L121.6,365.1 L119.4,361.7 L117.2,358.3 L115.2,354.9 L113.2,351.4 L111.3,347.8 L109.5,344.3 L107.8,340.6 L106.2,337.0 L104.6,333.3 L103.2,329.5 L101.8,325.8 L100.5,322.0 L99.3,318.2 L98.2,314.3 L97.1,310.5 L96.1,306.6 L95.2,302.7 L94.3,298.8 L93.5,294.9 L92.8,291.0 L92.2,287.0 L91.6,283.1 L91.0,279.1 L90.6,275.2 L90.2,271.2 L89.9,267.3 L89.6,263.3 L89.4,259.3 L89.3,255.3 L89.2,251.3 L89.2,247.4 L89.4,243.4 L89.5,239.4 L89.8,235.5 L90.2,231.5 L90.6,227.6 L91.1,223.6 L91.8,219.7 L92.5,215.8 L93.3,211.9 L94.2,208.1 L95.3,204.2 L96.4,200.4 L97.6,196.7 L98.9,192.9 L100.3,189.2 L101.8,185.6 L103.4,181.9 L105.1,178.3 L106.9,174.8 L108.7,171.3 L110.7,167.8 L112.7,164.4 L114.8,161.0 L116.9,157.7 L119.2,154.4 L121.5,151.2 L123.8,148.0 L126.3,144.9 L128.8,141.8 L131.3,138.8 L134.0,135.8 L136.7,132.9 L139.4,130.0 L142.2,127.2 L145.1,124.4 L148.0,121.7 L150.9,119.1 L153.9,116.5 L157.0,114.0 L160.1,111.5 L163.3,109.1 L166.5,106.7 L169.7,104.5 L173.0,102.2 L176.4,100.1 L179.7,98.0 L183.1,96.0 L186.6,94.0 L190.1,92.1 L193.6,90.3 L197.2,88.5 L200.8,86.8 L204.4,85.2 L208.1,83.7 L211.7,82.2 L215.5,80.8 L219.2,79.5 L223.0,78.2 L226.8,77.0 L230.6,75.9 L234.4,74.9 L238.3,73.9 L242.1,73.0 L246.0,72.2 L249.9,71.5 L253.8,70.8 L257.8,70.2 L261.7,69.7 L265.7,69.2 L269.6,68.8 L273.6,68.4 L277.5,68.1 L281.5,67.8 L285.5,67.5 L289.5,67.3 L293.5,67.1 L297.5,66.9 L301.4,66.8 L305.4,66.6 L309.4,66.5 L313.4,66.4 L317.4,66.3Z" fill="none" stroke="#f4efea" stroke-width="15" stroke-linejoin="round"/><path d="M319.7,58.2 L323.7,58.0 L327.7,57.9 L331.7,57.8 L335.7,57.7 L339.7,57.5 L343.7,57.4 L347.7,57.2 L351.7,57.1 L355.7,56.9 L359.7,56.8 L363.7,56.6 L367.7,56.5 L371.7,56.3 L375.6,56.2 L379.6,56.0 L383.6,55.9 L387.6,55.7 L391.6,55.5 L395.6,55.4 L399.6,55.2 L403.6,55.1 L407.6,54.9 L411.6,54.8 L415.6,54.6 L419.6,54.5 L423.6,54.3 L427.6,54.2 L431.6,54.1 L435.6,53.9 L439.7,53.8 L443.7,53.7 L447.7,53.5 L451.7,53.4 L455.7,53.3 L459.7,53.2 L463.7,53.1 L467.7,53.0 L471.7,52.9 L475.7,52.8 L479.7,52.7 L483.7,52.6 L487.7,52.6 L491.7,52.5 L495.7,52.4 L499.7,52.3 L503.7,52.2 L507.7,52.2 L511.7,52.1 L515.7,52.0 L519.7,51.9 L523.7,51.9 L527.7,51.8 L531.7,51.7 L535.7,51.6 L539.7,51.5 L543.7,51.5 L547.7,51.4 L551.7,51.3 L555.7,51.2 L559.7,51.1 L563.7,51.0 L567.7,50.9 L571.7,50.8 L575.6,50.7 L579.6,50.6 L583.6,50.5 L587.6,50.4 L591.6,50.3 L595.6,50.1 L599.6,50.0 L603.6,49.9 L607.6,49.8 L611.6,49.6 L615.6,49.5 L619.6,49.4 L623.6,49.2 L627.6,49.1 L631.6,49.0 L635.6,48.8 L639.6,48.7 L643.6,48.6 L647.6,48.4 L651.6,48.3 L655.6,48.2 L659.6,48.0 L663.6,47.9 L667.6,47.8 L671.6,47.7 L675.6,47.5 L679.6,47.4 L683.6,47.3 L687.6,47.2 L691.6,47.1 L695.6,46.9 L699.6,46.8 L703.6,46.8 L707.7,46.7 L711.7,46.6 L715.7,46.6 L719.8,46.6 L723.9,46.7 L727.9,46.7 L732.0,46.9 L736.1,47.0 L740.1,47.2 L744.2,47.5 L748.3,47.9 L752.4,48.3 L756.5,48.7 L760.6,49.3 L764.6,49.9 L768.7,50.6 L772.7,51.3 L776.8,52.1 L780.8,53.0 L784.8,54.0 L788.8,55.1 L792.7,56.2 L796.7,57.3 L800.6,58.6 L804.5,59.9 L808.4,61.3 L812.2,62.7 L816.0,64.2 L819.8,65.8 L823.6,67.4 L827.4,69.1 L831.1,70.9 L834.8,72.7 L838.4,74.6 L842.1,76.6 L845.6,78.6 L849.2,80.8 L852.7,83.0 L856.2,85.2 L859.6,87.6 L862.9,90.0 L866.2,92.6 L869.5,95.2 L872.7,97.8 L875.8,100.6 L878.8,103.4 L881.8,106.3 L884.7,109.3 L887.5,112.4 L890.3,115.6 L892.9,118.8 L895.5,122.0 L898.0,125.3 L900.4,128.7 L902.7,132.2 L905.0,135.6 L907.1,139.2 L909.2,142.7 L911.2,146.4 L913.2,150.0 L915.0,153.7 L916.8,157.4 L918.5,161.2 L920.1,165.0 L921.7,168.8 L923.1,172.7 L924.5,176.5 L925.8,180.5 L927.0,184.4 L928.2,188.3 L929.3,192.3 L930.2,196.3 L931.2,200.3 L932.0,204.4 L932.7,208.4 L933.4,212.5 L934.0,216.5 L934.4,220.6 L934.9,224.7 L935.2,228.8 L935.4,232.9 L935.6,237.0 L935.6,241.1 L935.6,245.2 L935.5,249.3 L935.3,253.3 L935.1,257.4 L934.7,261.5 L934.3,265.5 L933.8,269.6 L933.2,273.6 L932.6,277.6 L931.9,281.6 L931.1,285.6 L930.2,289.6 L929.3,293.5 L928.3,297.4 L927.2,301.3 L926.0,305.2 L924.8,309.1 L923.5,312.9 L922.1,316.7 L920.6,320.4 L919.1,324.1 L917.4,327.8 L915.7,331.4 L913.9,335.0 L911.9,338.5 L910.0,342.0 L907.9,345.4 L905.8,348.7 L903.6,352.0 L901.3,355.2 L899.0,358.4 L896.6,361.4 L894.1,364.5 L891.6,367.4 L889.1,370.3 L886.5,373.1 L883.8,375.9 L881.1,378.5 L878.3,381.1 L875.4,383.6 L872.5,386.1 L869.5,388.5 L866.4,390.8 L863.3,393.1 L860.2,395.2 L857.0,397.3 L853.7,399.4 L850.4,401.3 L847.0,403.2 L843.6,405.0 L840.2,406.8 L836.7,408.4 L833.2,410.0 L829.6,411.6 L826.0,413.0 L822.4,414.4 L818.8,415.7 L815.1,417.0 L811.4,418.2 L807.7,419.3 L803.9,420.4 L800.2,421.4 L796.4,422.3 L792.6,423.2 L788.8,424.0 L784.9,424.8 L781.1,425.6 L777.2,426.2 L773.4,426.9 L769.5,427.5 L765.6,428.0 L761.7,428.5 L757.8,429.0 L753.9,429.4 L749.9,429.8 L746.0,430.2 L742.1,430.5 L738.1,430.8 L734.2,431.1 L730.2,431.3 L726.3,431.6 L722.3,431.8 L718.3,432.0 L714.4,432.1 L710.4,432.3 L706.4,432.5 L702.5,432.6 L698.5,432.7 L694.5,432.8 L690.5,432.9 L686.5,433.0 L682.6,433.1 L678.6,433.2 L674.6,433.2 L670.6,433.3 L666.6,433.3 L662.6,433.4 L658.6,433.4 L654.7,433.4 L650.7,433.4 L646.7,433.4 L642.7,433.5 L638.7,433.5 L634.7,433.4 L630.7,433.4 L626.7,433.4 L622.7,433.4 L618.7,433.4 L614.7,433.4 L610.7,433.4 L606.7,433.4 L602.7,433.3 L598.7,433.3 L594.7,433.3 L590.7,433.3 L586.7,433.3 L582.7,433.3 L578.7,433.3 L574.7,433.3 L570.7,433.3 L566.7,433.3 L562.6,433.3 L558.6,433.4 L554.6,433.4 L550.6,433.4 L546.6,433.5 L542.6,433.5 L538.6,433.5 L534.6,433.6 L530.6,433.6 L526.6,433.7 L522.6,433.7 L518.6,433.8 L514.6,433.8 L510.6,433.9 L506.6,433.9 L502.6,434.0 L498.6,434.0 L494.6,434.1 L490.6,434.1 L486.6,434.2 L482.6,434.2 L478.6,434.3 L474.6,434.3 L470.6,434.4 L466.6,434.4 L462.6,434.4 L458.6,434.5 L454.6,434.5 L450.7,434.5 L446.7,434.5 L442.7,434.5 L438.7,434.5 L434.7,434.5 L430.7,434.5 L426.7,434.5 L422.7,434.5 L418.7,434.5 L414.7,434.5 L410.7,434.5 L406.7,434.5 L402.7,434.5 L398.7,434.5 L394.7,434.4 L390.7,434.4 L386.7,434.4 L382.7,434.4 L378.7,434.3 L374.7,434.3 L370.7,434.3 L366.7,434.2 L362.7,434.2 L358.7,434.2 L354.7,434.2 L350.7,434.1 L346.7,434.1 L342.7,434.1 L338.7,434.1 L334.7,434.0 L330.7,434.0 L326.7,434.0 L322.7,434.0 L318.7,434.0 L314.7,433.9 L310.7,433.9 L306.8,433.9 L302.8,433.8 L298.8,433.8 L294.8,433.7 L290.9,433.6 L286.9,433.5 L283.0,433.3 L279.0,433.1 L275.1,432.9 L271.2,432.7 L267.2,432.4 L263.3,432.1 L259.4,431.7 L255.5,431.3 L251.6,430.8 L247.8,430.3 L243.9,429.7 L240.1,429.1 L236.2,428.4 L232.4,427.6 L228.6,426.8 L224.9,425.9 L221.1,425.0 L217.4,423.9 L213.7,422.8 L210.1,421.6 L206.4,420.3 L202.8,418.9 L199.3,417.5 L195.7,415.9 L192.2,414.3 L188.8,412.6 L185.3,410.9 L181.9,409.0 L178.6,407.1 L175.3,405.1 L172.0,403.1 L168.8,401.0 L165.6,398.8 L162.5,396.5 L159.4,394.2 L156.3,391.8 L153.4,389.4 L150.4,386.9 L147.5,384.3 L144.7,381.7 L141.9,379.0 L139.2,376.3 L136.5,373.5 L133.8,370.6 L131.3,367.7 L128.7,364.8 L126.2,361.8 L123.8,358.8 L121.4,355.7 L119.0,352.5 L116.8,349.3 L114.5,346.1 L112.3,342.8 L110.2,339.4 L108.2,336.0 L106.2,332.6 L104.3,329.1 L102.4,325.5 L100.7,321.9 L99.0,318.3 L97.4,314.6 L95.8,310.8 L94.4,307.1 L93.1,303.2 L91.8,299.4 L90.6,295.5 L89.6,291.6 L88.6,287.7 L87.6,283.7 L86.8,279.7 L86.1,275.7 L85.4,271.7 L84.8,267.7 L84.3,263.6 L83.9,259.6 L83.6,255.5 L83.3,251.4 L83.1,247.3 L83.1,243.2 L83.1,239.1 L83.2,235.0 L83.4,230.9 L83.7,226.7 L84.2,222.6 L84.7,218.5 L85.3,214.4 L86.1,210.3 L87.0,206.3 L88.0,202.2 L89.1,198.2 L90.4,194.2 L91.7,190.3 L93.1,186.4 L94.7,182.5 L96.3,178.7 L98.1,175.0 L99.9,171.2 L101.8,167.5 L103.8,163.9 L105.9,160.3 L108.1,156.8 L110.3,153.3 L112.6,149.9 L115.0,146.5 L117.5,143.2 L120.0,139.9 L122.6,136.7 L125.3,133.5 L128.0,130.4 L130.8,127.4 L133.7,124.4 L136.6,121.5 L139.6,118.6 L142.6,115.8 L145.6,113.0 L148.8,110.4 L152.0,107.7 L155.2,105.2 L158.5,102.7 L161.8,100.2 L165.2,97.8 L168.6,95.5 L172.0,93.3 L175.5,91.1 L179.1,89.0 L182.7,87.0 L186.3,85.0 L190.0,83.1 L193.7,81.3 L197.4,79.5 L201.2,77.8 L205.0,76.2 L208.8,74.7 L212.7,73.2 L216.6,71.9 L220.5,70.5 L224.4,69.3 L228.4,68.2 L232.4,67.1 L236.4,66.1 L240.4,65.2 L244.4,64.3 L248.5,63.5 L252.5,62.8 L256.6,62.2 L260.7,61.7 L264.7,61.2 L268.8,60.7 L272.9,60.4 L276.9,60.0 L281.0,59.7 L285.0,59.5 L289.1,59.2 L293.1,59.0 L297.1,58.9 L301.2,58.7 L305.2,58.6 L309.2,58.5 L313.2,58.4 L317.2,58.2Z" fill="none" stroke="#e4dcd6" stroke-width="0.8" stroke-linejoin="round"/><path d="M319.9,64.7 L323.9,64.6 L327.9,64.5 L331.9,64.4 L335.9,64.2 L339.9,64.1 L343.9,63.9 L347.9,63.8 L351.9,63.7 L355.9,63.5 L359.9,63.4 L363.9,63.2 L367.9,63.0 L371.9,62.9 L375.9,62.7 L379.9,62.6 L383.9,62.4 L387.9,62.3 L391.9,62.1 L395.9,62.0 L399.9,61.8 L403.9,61.6 L407.9,61.5 L411.9,61.3 L415.9,61.2 L419.9,61.0 L423.9,60.9 L427.9,60.8 L431.9,60.6 L435.9,60.5 L439.9,60.4 L443.9,60.2 L447.9,60.1 L451.9,60.0 L455.9,59.9 L459.9,59.8 L463.9,59.7 L467.8,59.6 L471.8,59.5 L475.8,59.4 L479.8,59.3 L483.8,59.2 L487.8,59.1 L491.8,59.0 L495.8,59.0 L499.8,58.9 L503.8,58.8 L507.8,58.7 L511.8,58.6 L515.8,58.6 L519.8,58.5 L523.8,58.4 L527.8,58.3 L531.8,58.3 L535.8,58.2 L539.8,58.1 L543.8,58.0 L547.8,57.9 L551.8,57.9 L555.8,57.8 L559.8,57.7 L563.8,57.6 L567.8,57.5 L571.8,57.4 L575.8,57.3 L579.8,57.2 L583.8,57.1 L587.8,56.9 L591.8,56.8 L595.8,56.7 L599.8,56.6 L603.8,56.5 L607.8,56.3 L611.8,56.2 L615.8,56.1 L619.8,55.9 L623.8,55.8 L627.8,55.7 L631.8,55.5 L635.8,55.4 L639.8,55.3 L643.8,55.1 L647.8,55.0 L651.8,54.9 L655.8,54.7 L659.8,54.6 L663.8,54.5 L667.8,54.4 L671.8,54.2 L675.8,54.1 L679.8,54.0 L683.8,53.9 L687.8,53.7 L691.8,53.6 L695.8,53.5 L699.8,53.4 L703.8,53.3 L707.8,53.3 L711.8,53.2 L715.8,53.2 L719.8,53.2 L723.8,53.2 L727.8,53.3 L731.8,53.4 L735.8,53.6 L739.8,53.8 L743.7,54.1 L747.7,54.4 L751.7,54.8 L755.7,55.2 L759.7,55.8 L763.6,56.3 L767.5,57.0 L771.5,57.8 L775.4,58.6 L779.3,59.4 L783.2,60.4 L787.1,61.4 L790.9,62.5 L794.7,63.6 L798.6,64.8 L802.3,66.1 L806.1,67.4 L809.9,68.8 L813.6,70.3 L817.3,71.8 L821.0,73.4 L824.6,75.0 L828.2,76.8 L831.8,78.5 L835.4,80.4 L838.9,82.3 L842.3,84.3 L845.8,86.3 L849.2,88.5 L852.5,90.7 L855.8,92.9 L859.0,95.3 L862.2,97.7 L865.3,100.2 L868.4,102.8 L871.4,105.4 L874.3,108.2 L877.2,111.0 L880.0,113.8 L882.7,116.8 L885.3,119.8 L887.9,122.9 L890.3,126.0 L892.7,129.2 L895.1,132.4 L897.3,135.7 L899.5,139.1 L901.6,142.5 L903.7,145.9 L905.6,149.4 L907.5,153.0 L909.3,156.5 L911.0,160.1 L912.7,163.8 L914.3,167.4 L915.8,171.1 L917.3,174.9 L918.6,178.6 L919.9,182.4 L921.1,186.2 L922.3,190.0 L923.4,193.9 L924.4,197.8 L925.3,201.7 L926.2,205.6 L926.9,209.5 L927.6,213.4 L928.3,217.4 L928.8,221.3 L929.3,225.3 L929.7,229.3 L930.0,233.3 L930.3,237.3 L930.5,241.3 L930.6,245.3 L930.6,249.3 L930.6,253.3 L930.5,257.3 L930.3,261.3 L930.1,265.3 L929.8,269.2 L929.4,273.2 L929.0,277.2 L928.4,281.2 L927.9,285.1 L927.2,289.1 L926.5,293.0 L925.8,296.9 L925.0,300.9 L924.1,304.8 L923.2,308.7 L922.2,312.5 L921.1,316.4 L920.0,320.2 L918.8,324.0 L917.5,327.8 L916.1,331.6 L914.7,335.3 L913.2,339.0 L911.6,342.7 L909.9,346.3 L908.1,349.9 L906.2,353.4 L904.3,356.9 L902.2,360.4 L900.1,363.7 L897.8,367.0 L895.5,370.3 L893.1,373.5 L890.5,376.5 L887.9,379.6 L885.2,382.5 L882.3,385.3 L879.4,388.0 L876.4,390.7 L873.3,393.2 L870.2,395.7 L867.0,398.1 L863.7,400.4 L860.4,402.6 L857.0,404.8 L853.6,406.8 L850.1,408.8 L846.6,410.7 L843.0,412.5 L839.4,414.3 L835.8,415.9 L832.1,417.5 L828.4,419.1 L824.7,420.5 L820.9,421.9 L817.1,423.2 L813.3,424.4 L809.5,425.6 L805.7,426.7 L801.8,427.7 L797.9,428.7 L794.0,429.6 L790.1,430.4 L786.2,431.2 L782.3,432.0 L778.3,432.7 L774.4,433.3 L770.4,433.9 L766.5,434.5 L762.5,435.0 L758.5,435.5 L754.6,435.9 L750.6,436.3 L746.6,436.7 L742.6,437.0 L738.6,437.3 L734.6,437.6 L730.6,437.9 L726.6,438.1 L722.7,438.3 L718.7,438.5 L714.7,438.7 L710.7,438.9 L706.7,439.0 L702.7,439.2 L698.7,439.3 L694.7,439.4 L690.7,439.5 L686.7,439.6 L682.7,439.7 L678.7,439.7 L674.7,439.8 L670.7,439.9 L666.7,439.9 L662.7,439.9 L658.7,440.0 L654.7,440.0 L650.7,440.0 L646.7,440.0 L642.7,440.0 L638.7,440.0 L634.7,440.0 L630.7,440.0 L626.7,440.0 L622.7,440.0 L618.7,440.0 L614.7,440.0 L610.7,439.9 L606.7,439.9 L602.7,439.9 L598.7,439.9 L594.7,439.9 L590.7,439.9 L586.7,439.9 L582.7,439.9 L578.7,439.9 L574.7,439.9 L570.7,439.9 L566.7,439.9 L562.7,439.9 L558.7,439.9 L554.7,440.0 L550.7,440.0 L546.7,440.0 L542.7,440.1 L538.7,440.1 L534.7,440.2 L530.7,440.2 L526.7,440.2 L522.7,440.3 L518.7,440.3 L514.7,440.4 L510.7,440.4 L506.7,440.5 L502.7,440.5 L498.7,440.6 L494.7,440.6 L490.7,440.7 L486.7,440.7 L482.7,440.8 L478.7,440.8 L474.7,440.9 L470.7,440.9 L466.7,441.0 L462.7,441.0 L458.7,441.0 L454.7,441.0 L450.7,441.1 L446.7,441.1 L442.7,441.1 L438.7,441.1 L434.7,441.1 L430.7,441.1 L426.7,441.1 L422.7,441.1 L418.7,441.1 L414.7,441.1 L410.7,441.1 L406.7,441.1 L402.7,441.0 L398.7,441.0 L394.7,441.0 L390.7,441.0 L386.7,441.0 L382.7,440.9 L378.7,440.9 L374.7,440.9 L370.7,440.8 L366.7,440.8 L362.7,440.8 L358.7,440.8 L354.7,440.7 L350.7,440.7 L346.7,440.7 L342.7,440.6 L338.7,440.6 L334.7,440.6 L330.7,440.6 L326.7,440.6 L322.7,440.5 L318.7,440.5 L314.7,440.5 L310.7,440.5 L306.7,440.4 L302.7,440.4 L298.7,440.3 L294.7,440.2 L290.7,440.1 L286.7,440.0 L282.7,439.9 L278.7,439.7 L274.7,439.5 L270.7,439.2 L266.7,438.9 L262.7,438.6 L258.8,438.2 L254.8,437.8 L250.8,437.3 L246.8,436.8 L242.9,436.2 L238.9,435.6 L235.0,434.8 L231.1,434.0 L227.2,433.2 L223.3,432.3 L219.4,431.3 L215.6,430.2 L211.7,429.0 L207.9,427.7 L204.2,426.4 L200.4,424.9 L196.7,423.4 L193.1,421.8 L189.5,420.1 L185.9,418.4 L182.3,416.5 L178.8,414.6 L175.3,412.6 L171.9,410.5 L168.6,408.4 L165.2,406.1 L162.0,403.8 L158.7,401.5 L155.6,399.0 L152.5,396.5 L149.4,393.9 L146.4,391.3 L143.5,388.6 L140.6,385.8 L137.8,382.9 L135.1,380.0 L132.4,377.0 L129.8,374.0 L127.3,370.9 L124.9,367.7 L122.5,364.5 L120.2,361.2 L118.0,357.9 L115.9,354.5 L113.8,351.0 L111.9,347.5 L110.0,344.0 L108.2,340.4 L106.5,336.8 L104.9,333.1 L103.4,329.4 L101.9,325.7 L100.5,322.0 L99.2,318.2 L98.0,314.4 L96.9,310.5 L95.8,306.7 L94.8,302.8 L93.8,298.9 L93.0,295.0 L92.2,291.1 L91.5,287.2 L90.8,283.2 L90.3,279.3 L89.8,275.3 L89.3,271.3 L88.9,267.3 L88.6,263.3 L88.4,259.4 L88.2,255.4 L88.1,251.4 L88.1,247.4 L88.2,243.4 L88.3,239.4 L88.6,235.4 L88.9,231.4 L89.3,227.4 L89.8,223.4 L90.4,219.5 L91.2,215.5 L92.0,211.6 L92.9,207.7 L93.9,203.9 L95.0,200.0 L96.3,196.2 L97.6,192.4 L99.0,188.7 L100.5,185.0 L102.1,181.3 L103.8,177.7 L105.6,174.1 L107.5,170.6 L109.4,167.1 L111.4,163.7 L113.5,160.2 L115.7,156.9 L118.0,153.6 L120.3,150.3 L122.7,147.1 L125.1,144.0 L127.6,140.9 L130.2,137.8 L132.9,134.8 L135.6,131.9 L138.3,129.0 L141.2,126.1 L144.0,123.4 L147.0,120.6 L150.0,118.0 L153.0,115.4 L156.1,112.8 L159.2,110.3 L162.4,107.9 L165.6,105.5 L168.9,103.2 L172.2,101.0 L175.6,98.8 L179.0,96.7 L182.4,94.7 L185.9,92.7 L189.4,90.8 L192.9,88.9 L196.5,87.2 L200.1,85.5 L203.8,83.9 L207.5,82.3 L211.2,80.8 L214.9,79.4 L218.7,78.1 L222.5,76.8 L226.3,75.6 L230.2,74.5 L234.0,73.4 L237.9,72.5 L241.8,71.6 L245.7,70.8 L249.7,70.0 L253.6,69.3 L257.5,68.7 L261.5,68.2 L265.5,67.7 L269.5,67.3 L273.4,66.9 L277.4,66.6 L281.4,66.3 L285.4,66.0 L289.4,65.8 L293.4,65.6 L297.4,65.4 L301.4,65.3 L305.4,65.2 L309.4,65.0 L313.4,64.9 L317.4,64.8Z" fill="none" stroke="#eddfd1" stroke-width="8.2" stroke-linejoin="round"/><path d="M320.2,72.4 L324.2,72.3 L328.2,72.1 L332.2,72.0 L336.2,71.9 L340.2,71.7 L344.2,71.6 L348.2,71.5 L352.2,71.3 L356.2,71.2 L360.2,71.0 L364.2,70.9 L368.2,70.7 L372.2,70.5 L376.2,70.4 L380.2,70.2 L384.2,70.1 L388.2,69.9 L392.2,69.8 L396.2,69.6 L400.2,69.5 L404.2,69.3 L408.2,69.1 L412.2,69.0 L416.2,68.8 L420.2,68.7 L424.1,68.6 L428.1,68.4 L432.1,68.3 L436.1,68.1 L440.1,68.0 L444.1,67.9 L448.1,67.8 L452.1,67.6 L456.1,67.5 L460.1,67.4 L464.0,67.3 L468.0,67.2 L472.0,67.1 L476.0,67.0 L480.0,67.0 L484.0,66.9 L488.0,66.8 L492.0,66.7 L496.0,66.6 L500.0,66.5 L504.0,66.5 L508.0,66.4 L512.0,66.3 L516.0,66.2 L520.0,66.2 L524.0,66.1 L528.0,66.0 L532.0,65.9 L536.0,65.8 L540.0,65.8 L544.0,65.7 L548.0,65.6 L552.0,65.5 L556.0,65.4 L560.0,65.3 L564.0,65.2 L568.0,65.1 L572.0,65.0 L576.0,64.9 L580.0,64.8 L584.0,64.7 L588.0,64.6 L592.0,64.5 L596.0,64.4 L600.1,64.2 L604.1,64.1 L608.1,64.0 L612.1,63.9 L616.1,63.7 L620.1,63.6 L624.1,63.5 L628.1,63.3 L632.1,63.2 L636.1,63.1 L640.0,62.9 L644.0,62.8 L648.0,62.7 L652.0,62.5 L656.0,62.4 L660.0,62.3 L664.0,62.1 L668.0,62.0 L672.0,61.9 L676.0,61.8 L680.0,61.6 L684.0,61.5 L688.0,61.4 L692.0,61.3 L696.0,61.2 L699.9,61.1 L703.9,61.0 L707.9,60.9 L711.8,60.9 L715.8,60.8 L719.7,60.9 L723.7,60.9 L727.6,61.0 L731.5,61.1 L735.4,61.2 L739.3,61.5 L743.2,61.7 L747.0,62.0 L750.9,62.4 L754.8,62.8 L758.6,63.3 L762.4,63.9 L766.2,64.6 L770.0,65.3 L773.8,66.0 L777.6,66.9 L781.3,67.8 L785.1,68.8 L788.8,69.8 L792.5,70.9 L796.2,72.1 L799.9,73.3 L803.5,74.6 L807.1,76.0 L810.7,77.4 L814.3,78.9 L817.9,80.4 L821.4,82.0 L824.9,83.6 L828.3,85.4 L831.7,87.1 L835.1,89.0 L838.5,90.9 L841.8,92.9 L845.0,94.9 L848.2,97.0 L851.4,99.2 L854.5,101.4 L857.5,103.7 L860.5,106.1 L863.4,108.6 L866.3,111.1 L869.1,113.7 L871.8,116.3 L874.4,119.0 L877.0,121.8 L879.5,124.7 L882.0,127.6 L884.3,130.6 L886.7,133.7 L888.9,136.8 L891.1,139.9 L893.2,143.1 L895.2,146.4 L897.2,149.7 L899.0,153.0 L900.9,156.4 L902.6,159.8 L904.3,163.3 L905.9,166.8 L907.5,170.3 L909.0,173.9 L910.4,177.4 L911.8,181.1 L913.0,184.7 L914.3,188.4 L915.4,192.0 L916.5,195.7 L917.5,199.5 L918.5,203.2 L919.4,207.0 L920.2,210.8 L920.9,214.6 L921.6,218.4 L922.3,222.2 L922.8,226.0 L923.3,229.9 L923.8,233.7 L924.1,237.6 L924.5,241.5 L924.7,245.4 L924.9,249.3 L925.1,253.2 L925.1,257.1 L925.2,261.0 L925.1,264.9 L925.0,268.8 L924.9,272.8 L924.7,276.7 L924.5,280.6 L924.2,284.6 L923.8,288.5 L923.4,292.4 L922.9,296.4 L922.4,300.3 L921.9,304.2 L921.3,308.2 L920.6,312.1 L919.9,316.0 L919.2,320.0 L918.4,323.9 L917.5,327.8 L916.6,331.8 L915.6,335.7 L914.6,339.6 L913.4,343.5 L912.2,347.4 L910.8,351.3 L909.4,355.1 L907.8,358.9 L906.0,362.7 L904.2,366.4 L902.2,370.1 L900.0,373.6 L897.7,377.1 L895.2,380.6 L892.6,383.9 L889.9,387.1 L887.1,390.2 L884.1,393.2 L881.0,396.0 L877.8,398.8 L874.6,401.4 L871.3,404.0 L867.9,406.5 L864.4,408.8 L860.9,411.1 L857.3,413.2 L853.7,415.3 L850.1,417.3 L846.4,419.2 L842.6,421.1 L838.9,422.8 L835.1,424.5 L831.2,426.1 L827.4,427.6 L823.5,429.0 L819.6,430.4 L815.6,431.7 L811.7,432.9 L807.7,434.0 L803.7,435.1 L799.7,436.1 L795.7,437.0 L791.7,437.9 L787.7,438.7 L783.7,439.5 L779.6,440.2 L775.6,440.9 L771.5,441.5 L767.5,442.1 L763.5,442.6 L759.4,443.1 L755.4,443.5 L751.3,443.9 L747.3,444.3 L743.2,444.7 L739.2,445.0 L735.1,445.3 L731.1,445.5 L727.1,445.8 L723.0,446.0 L719.0,446.2 L715.0,446.4 L711.0,446.5 L706.9,446.7 L702.9,446.8 L698.9,446.9 L694.9,447.1 L690.9,447.2 L686.8,447.3 L682.8,447.3 L678.8,447.4 L674.8,447.5 L670.8,447.5 L666.8,447.6 L662.7,447.6 L658.7,447.6 L654.7,447.6 L650.7,447.7 L646.7,447.7 L642.7,447.7 L638.7,447.7 L634.7,447.7 L630.7,447.7 L626.7,447.7 L622.7,447.6 L618.7,447.6 L614.7,447.6 L610.7,447.6 L606.7,447.6 L602.7,447.6 L598.7,447.6 L594.7,447.5 L590.7,447.5 L586.7,447.5 L582.7,447.5 L578.7,447.5 L574.7,447.5 L570.7,447.5 L566.7,447.6 L562.7,447.6 L558.7,447.6 L554.7,447.6 L550.7,447.7 L546.8,447.7 L542.8,447.7 L538.8,447.8 L534.8,447.8 L530.8,447.9 L526.8,447.9 L522.8,448.0 L518.8,448.0 L514.8,448.1 L510.8,448.1 L506.8,448.2 L502.8,448.2 L498.8,448.3 L494.8,448.3 L490.8,448.4 L486.8,448.4 L482.8,448.5 L478.8,448.5 L474.8,448.5 L470.8,448.6 L466.8,448.6 L462.7,448.6 L458.7,448.7 L454.7,448.7 L450.7,448.7 L446.7,448.7 L442.7,448.8 L438.7,448.8 L434.7,448.8 L430.7,448.8 L426.7,448.8 L422.7,448.8 L418.7,448.8 L414.7,448.8 L410.7,448.7 L406.7,448.7 L402.7,448.7 L398.6,448.7 L394.6,448.7 L390.6,448.6 L386.6,448.6 L382.6,448.6 L378.6,448.6 L374.6,448.5 L370.6,448.5 L366.6,448.5 L362.6,448.4 L358.6,448.4 L354.6,448.4 L350.6,448.4 L346.6,448.3 L342.6,448.3 L338.6,448.3 L334.6,448.3 L330.6,448.2 L326.7,448.2 L322.7,448.2 L318.6,448.2 L314.6,448.1 L310.6,448.1 L306.6,448.1 L302.6,448.0 L298.6,448.0 L294.5,447.9 L290.5,447.8 L286.4,447.7 L282.4,447.5 L278.3,447.3 L274.3,447.1 L270.2,446.9 L266.1,446.6 L262.1,446.2 L258.0,445.8 L253.9,445.4 L249.8,444.9 L245.8,444.4 L241.7,443.8 L237.6,443.1 L233.6,442.3 L229.5,441.5 L225.5,440.6 L221.4,439.7 L217.4,438.6 L213.4,437.5 L209.4,436.2 L205.5,434.9 L201.5,433.5 L197.7,432.0 L193.8,430.4 L190.0,428.7 L186.2,426.9 L182.5,425.1 L178.8,423.1 L175.1,421.1 L171.6,419.0 L168.0,416.8 L164.5,414.5 L161.1,412.2 L157.7,409.8 L154.4,407.2 L151.1,404.7 L147.9,402.0 L144.8,399.2 L141.8,396.4 L138.8,393.5 L135.9,390.5 L133.1,387.5 L130.3,384.4 L127.7,381.1 L125.1,377.9 L122.7,374.5 L120.4,371.1 L118.1,367.6 L116.0,364.0 L114.0,360.4 L112.2,356.7 L110.5,353.0 L108.8,349.2 L107.3,345.4 L105.9,341.5 L104.6,337.7 L103.4,333.8 L102.3,329.9 L101.3,325.9 L100.4,322.0 L99.5,318.1 L98.8,314.1 L98.0,310.2 L97.4,306.3 L96.8,302.3 L96.2,298.4 L95.7,294.4 L95.3,290.5 L94.9,286.6 L94.6,282.6 L94.3,278.7 L94.0,274.8 L93.8,270.8 L93.7,266.9 L93.6,263.0 L93.6,259.1 L93.6,255.2 L93.7,251.3 L93.9,247.4 L94.2,243.5 L94.5,239.7 L94.9,235.8 L95.3,232.0 L95.9,228.2 L96.5,224.4 L97.2,220.6 L97.9,216.9 L98.8,213.1 L99.8,209.5 L100.8,205.8 L101.9,202.2 L103.2,198.5 L104.5,195.0 L105.8,191.4 L107.3,187.9 L108.9,184.4 L110.5,181.0 L112.2,177.5 L114.0,174.2 L115.9,170.8 L117.9,167.5 L119.9,164.3 L122.0,161.1 L124.2,157.9 L126.4,154.8 L128.7,151.7 L131.1,148.7 L133.5,145.7 L136.0,142.8 L138.5,139.9 L141.1,137.1 L143.8,134.3 L146.5,131.6 L149.3,128.9 L152.1,126.3 L155.0,123.7 L157.9,121.2 L160.9,118.7 L163.9,116.4 L167.0,114.0 L170.1,111.7 L173.2,109.5 L176.4,107.4 L179.6,105.3 L182.9,103.2 L186.2,101.3 L189.6,99.4 L193.0,97.5 L196.4,95.8 L199.8,94.1 L203.3,92.4 L206.9,90.9 L210.4,89.4 L214.0,88.0 L217.6,86.6 L221.2,85.3 L224.9,84.1 L228.5,82.9 L232.2,81.9 L236.0,80.9 L239.7,79.9 L243.5,79.1 L247.2,78.3 L251.0,77.5 L254.8,76.9 L258.6,76.3 L262.5,75.8 L266.4,75.3 L270.2,74.9 L274.1,74.5 L278.0,74.2 L281.9,73.9 L285.9,73.7 L289.8,73.5 L293.7,73.3 L297.7,73.1 L301.7,72.9 L305.6,72.8 L309.6,72.7 L313.6,72.6 L317.6,72.5Z" fill="none" stroke="#c6bdbc" stroke-width="2.4" stroke-linejoin="round"/><path d="M320.2,74.3 L324.2,74.2 L328.2,74.0 L332.2,73.9 L336.3,73.8 L340.3,73.6 L344.3,73.5 L348.3,73.3 L352.3,73.2 L356.3,73.1 L360.3,72.9 L364.3,72.7 L368.3,72.6 L372.3,72.4 L376.3,72.3 L380.3,72.1 L384.3,72.0 L388.3,71.8 L392.3,71.7 L396.3,71.5 L400.3,71.3 L404.3,71.2 L408.2,71.0 L412.2,70.9 L416.2,70.7 L420.2,70.6 L424.2,70.4 L428.2,70.3 L432.2,70.2 L436.2,70.0 L440.2,69.9 L444.2,69.8 L448.1,69.7 L452.1,69.5 L456.1,69.4 L460.1,69.3 L464.1,69.2 L468.1,69.1 L472.1,69.0 L476.1,68.9 L480.1,68.8 L484.1,68.8 L488.0,68.7 L492.0,68.6 L496.0,68.5 L500.0,68.4 L504.0,68.3 L508.0,68.3 L512.0,68.2 L516.0,68.1 L520.0,68.0 L524.0,68.0 L528.0,67.9 L532.0,67.8 L536.0,67.7 L540.0,67.7 L544.0,67.6 L548.0,67.5 L552.0,67.4 L556.0,67.3 L560.1,67.2 L564.1,67.1 L568.1,67.0 L572.1,66.9 L576.1,66.8 L580.1,66.7 L584.1,66.6 L588.1,66.5 L592.1,66.4 L596.1,66.2 L600.1,66.1 L604.1,66.0 L608.1,65.9 L612.1,65.7 L616.1,65.6 L620.1,65.5 L624.1,65.4 L628.1,65.2 L632.1,65.1 L636.1,65.0 L640.1,64.8 L644.1,64.7 L648.1,64.6 L652.1,64.4 L656.1,64.3 L660.1,64.2 L664.1,64.0 L668.1,63.9 L672.1,63.8 L676.1,63.6 L680.1,63.5 L684.1,63.4 L688.0,63.3 L692.0,63.2 L696.0,63.1 L700.0,63.0 L704.0,62.9 L707.9,62.8 L711.8,62.8 L715.8,62.7 L719.7,62.7 L723.6,62.8 L727.5,62.9 L731.4,63.0 L735.3,63.1 L739.2,63.3 L743.0,63.6 L746.9,63.9 L750.7,64.3 L754.5,64.7 L758.3,65.2 L762.1,65.8 L765.9,66.4 L769.6,67.1 L773.4,67.9 L777.1,68.7 L780.9,69.6 L784.6,70.6 L788.3,71.6 L791.9,72.7 L795.6,73.9 L799.2,75.1 L802.9,76.4 L806.5,77.7 L810.0,79.1 L813.6,80.6 L817.1,82.1 L820.6,83.7 L824.1,85.3 L827.5,87.0 L830.9,88.8 L834.2,90.6 L837.5,92.5 L840.8,94.5 L844.0,96.5 L847.2,98.6 L850.3,100.7 L853.3,102.9 L856.3,105.2 L859.3,107.6 L862.2,110.0 L865.0,112.5 L867.8,115.0 L870.5,117.6 L873.1,120.3 L875.6,123.1 L878.1,125.9 L880.5,128.8 L882.9,131.8 L885.1,134.8 L887.4,137.8 L889.5,141.0 L891.6,144.1 L893.6,147.3 L895.5,150.6 L897.4,153.9 L899.2,157.3 L901.0,160.6 L902.7,164.1 L904.3,167.5 L905.8,171.0 L907.3,174.5 L908.7,178.1 L910.1,181.7 L911.4,185.3 L912.6,188.9 L913.7,192.5 L914.8,196.2 L915.8,199.9 L916.8,203.6 L917.7,207.3 L918.5,211.1 L919.3,214.8 L920.0,218.6 L920.6,222.4 L921.2,226.2 L921.8,230.0 L922.2,233.9 L922.6,237.7 L923.0,241.5 L923.3,245.4 L923.5,249.3 L923.7,253.1 L923.8,257.0 L923.9,260.9 L923.9,264.8 L923.9,268.7 L923.8,272.7 L923.7,276.6 L923.5,280.5 L923.2,284.4 L922.9,288.4 L922.6,292.3 L922.2,296.2 L921.8,300.2 L921.3,304.1 L920.8,308.1 L920.2,312.0 L919.6,316.0 L919.0,319.9 L918.3,323.9 L917.6,327.8 L916.8,331.8 L915.9,335.8 L914.9,339.8 L913.9,343.7 L912.7,347.7 L911.5,351.6 L910.1,355.5 L908.6,359.4 L907.0,363.3 L905.2,367.1 L903.2,370.8 L901.1,374.5 L898.8,378.0 L896.4,381.5 L893.8,384.9 L891.1,388.2 L888.2,391.4 L885.2,394.4 L882.1,397.3 L878.9,400.2 L875.7,402.9 L872.3,405.4 L868.9,407.9 L865.4,410.3 L861.8,412.6 L858.3,414.8 L854.6,416.9 L850.9,419.0 L847.2,420.9 L843.4,422.8 L839.6,424.5 L835.8,426.2 L831.9,427.8 L828.0,429.3 L824.1,430.8 L820.1,432.1 L816.2,433.4 L812.2,434.7 L808.2,435.8 L804.2,436.9 L800.2,437.9 L796.1,438.9 L792.1,439.7 L788.0,440.6 L784.0,441.4 L779.9,442.1 L775.9,442.7 L771.8,443.4 L767.7,443.9 L763.7,444.5 L759.6,445.0 L755.6,445.4 L751.5,445.8 L747.4,446.2 L743.4,446.5 L739.3,446.8 L735.3,447.1 L731.2,447.4 L727.2,447.6 L723.1,447.9 L719.1,448.1 L715.1,448.2 L711.0,448.4 L707.0,448.6 L703.0,448.7 L699.0,448.8 L694.9,448.9 L690.9,449.1 L686.9,449.1 L682.9,449.2 L678.8,449.3 L674.8,449.4 L670.8,449.4 L666.8,449.5 L662.8,449.5 L658.7,449.5 L654.7,449.5 L650.7,449.6 L646.7,449.6 L642.7,449.6 L638.7,449.6 L634.7,449.6 L630.7,449.6 L626.7,449.5 L622.6,449.5 L618.6,449.5 L614.6,449.5 L610.6,449.5 L606.6,449.5 L602.6,449.5 L598.7,449.4 L594.7,449.4 L590.7,449.4 L586.7,449.4 L582.7,449.4 L578.7,449.4 L574.7,449.4 L570.7,449.4 L566.7,449.4 L562.7,449.5 L558.7,449.5 L554.8,449.5 L550.8,449.6 L546.8,449.6 L542.8,449.6 L538.8,449.7 L534.8,449.7 L530.8,449.8 L526.8,449.8 L522.8,449.8 L518.8,449.9 L514.8,449.9 L510.8,450.0 L506.8,450.0 L502.8,450.1 L498.8,450.2 L494.8,450.2 L490.8,450.2 L486.8,450.3 L482.8,450.3 L478.8,450.4 L474.8,450.4 L470.8,450.5 L466.8,450.5 L462.8,450.5 L458.8,450.6 L454.7,450.6 L450.7,450.6 L446.7,450.6 L442.7,450.6 L438.7,450.7 L434.7,450.7 L430.7,450.7 L426.7,450.7 L422.7,450.7 L418.7,450.7 L414.7,450.6 L410.7,450.6 L406.6,450.6 L402.6,450.6 L398.6,450.6 L394.6,450.6 L390.6,450.5 L386.6,450.5 L382.6,450.5 L378.6,450.4 L374.6,450.4 L370.6,450.4 L366.6,450.4 L362.6,450.3 L358.6,450.3 L354.6,450.3 L350.6,450.2 L346.6,450.2 L342.6,450.2 L338.6,450.2 L334.6,450.1 L330.6,450.1 L326.6,450.1 L322.6,450.1 L318.6,450.1 L314.6,450.0 L310.6,450.0 L306.6,450.0 L302.6,449.9 L298.5,449.9 L294.5,449.8 L290.4,449.7 L286.4,449.6 L282.3,449.4 L278.2,449.2 L274.2,449.0 L270.1,448.7 L266.0,448.4 L261.9,448.1 L257.8,447.7 L253.7,447.3 L249.6,446.8 L245.5,446.2 L241.4,445.6 L237.3,444.9 L233.2,444.2 L229.1,443.4 L225.0,442.5 L221.0,441.5 L216.9,440.4 L212.9,439.3 L208.9,438.0 L204.9,436.7 L200.9,435.2 L197.0,433.7 L193.1,432.1 L189.2,430.4 L185.4,428.6 L181.6,426.7 L177.9,424.8 L174.2,422.7 L170.6,420.6 L167.0,418.4 L163.5,416.1 L160.1,413.7 L156.7,411.2 L153.3,408.7 L150.0,406.0 L146.8,403.3 L143.7,400.5 L140.6,397.7 L137.6,394.7 L134.7,391.7 L131.9,388.6 L129.1,385.4 L126.5,382.2 L124.0,378.8 L121.6,375.4 L119.2,371.9 L117.1,368.4 L115.0,364.7 L113.1,361.0 L111.3,357.3 L109.6,353.4 L108.1,349.6 L106.7,345.7 L105.4,341.8 L104.2,337.9 L103.1,333.9 L102.1,330.0 L101.2,326.0 L100.4,322.0 L99.6,318.0 L98.9,314.1 L98.3,310.1 L97.8,306.2 L97.3,302.2 L96.8,298.2 L96.4,294.3 L96.1,290.4 L95.7,286.4 L95.5,282.5 L95.3,278.6 L95.1,274.6 L95.0,270.7 L94.9,266.8 L94.9,262.9 L94.9,259.0 L95.0,255.1 L95.1,251.3 L95.4,247.4 L95.6,243.6 L96.0,239.7 L96.4,235.9 L96.9,232.1 L97.5,228.4 L98.1,224.6 L98.8,220.9 L99.6,217.2 L100.5,213.5 L101.5,209.9 L102.5,206.3 L103.6,202.7 L104.9,199.1 L106.2,195.6 L107.5,192.1 L109.0,188.6 L110.6,185.2 L112.2,181.7 L113.9,178.4 L115.7,175.0 L117.5,171.7 L119.5,168.5 L121.5,165.3 L123.5,162.1 L125.7,159.0 L127.9,155.9 L130.2,152.8 L132.5,149.8 L134.9,146.9 L137.4,144.0 L139.9,141.1 L142.5,138.3 L145.1,135.6 L147.8,132.9 L150.6,130.3 L153.4,127.7 L156.2,125.1 L159.1,122.6 L162.1,120.2 L165.1,117.8 L168.1,115.5 L171.2,113.3 L174.3,111.1 L177.5,108.9 L180.7,106.9 L183.9,104.9 L187.2,102.9 L190.5,101.0 L193.9,99.2 L197.2,97.5 L200.7,95.8 L204.1,94.2 L207.6,92.6 L211.1,91.1 L214.7,89.7 L218.2,88.4 L221.8,87.1 L225.4,85.9 L229.1,84.7 L232.8,83.7 L236.4,82.7 L240.1,81.8 L243.9,80.9 L247.6,80.1 L251.3,79.4 L255.1,78.8 L258.9,78.2 L262.7,77.7 L266.6,77.2 L270.4,76.8 L274.3,76.4 L278.2,76.1 L282.1,75.8 L286.0,75.6 L289.9,75.3 L293.8,75.1 L297.8,75.0 L301.7,74.8 L305.7,74.7 L309.7,74.6 L313.7,74.5 L317.7,74.3Z" fill="none" stroke="#9cc4d0" stroke-width="0.9" stroke-linejoin="round"/><path d="M319.8,60.6L320.1,68.8M325.2,60.5L325.4,68.7M330.5,60.3L330.8,68.5M335.8,60.1L336.1,68.3M341.2,59.9L341.5,68.1M346.5,59.7L346.8,67.9M351.9,59.6L352.2,67.7M357.2,59.4L357.5,67.5M362.6,59.2L362.9,67.3M367.9,58.9L368.2,67.1M373.2,58.7L373.6,66.9M378.6,58.5L378.9,66.7M383.9,58.3L384.3,66.5M389.3,58.1L389.6,66.3M394.6,57.9L395.0,66.1M400.0,57.7L400.3,65.9M405.3,57.5L405.6,65.7M410.7,57.3L411.0,65.5M416.0,57.1L416.3,65.3M421.4,56.9L421.7,65.1M426.7,56.7L427.0,64.9M432.1,56.5L432.4,64.7M437.4,56.3L437.7,64.5M442.8,56.2L443.0,64.4M448.1,56.0L448.4,64.2M453.5,55.8L453.7,64.0M458.8,55.7L459.1,63.9M464.2,55.6L464.4,63.8M469.6,55.4L469.7,63.6M474.9,55.3L475.1,63.5M480.3,55.2L480.4,63.4M485.6,55.1L485.8,63.3M491.0,55.0L491.1,63.2M496.3,54.8L496.5,63.0M501.7,54.7L501.8,62.9M507.0,54.6L507.2,62.8M512.4,54.5L512.5,62.7M517.7,54.4L517.9,62.6M523.1,54.3L523.2,62.5M528.4,54.2L528.6,62.4M533.8,54.1L533.9,62.3M539.1,54.0L539.3,62.2M544.4,53.9L544.6,62.1M549.8,53.8L550.0,62.0M555.1,53.7L555.3,61.9M560.5,53.6L560.7,61.8M565.8,53.4L566.0,61.6M571.2,53.3L571.4,61.5M576.5,53.2L576.7,61.3M581.9,53.0L582.1,61.2M587.2,52.9L587.4,61.1M592.5,52.7L592.8,60.9M597.9,52.5L598.1,60.7M603.2,52.4L603.5,60.6M608.6,52.2L608.8,60.4M613.9,52.0L614.2,60.2M619.3,51.9L619.5,60.0M624.6,51.7L624.9,59.9M630.0,51.5L630.2,59.7M635.3,51.3L635.6,59.5M640.7,51.1L640.9,59.3M646.0,51.0L646.3,59.2M651.4,50.8L651.6,59.0M656.7,50.6L657.0,58.8M662.0,50.4L662.3,58.6M667.4,50.3L667.7,58.5M672.7,50.1L673.0,58.3M678.1,49.9L678.3,58.1M683.4,49.8L683.7,58.0M688.8,49.6L689.0,57.8M694.2,49.5L694.4,57.7M699.5,49.3L699.7,57.5M704.9,49.2L705.0,57.4M710.3,49.1L710.4,57.3M715.7,49.1L715.7,57.3M721.0,49.1L721.0,57.3M726.4,49.2L726.3,57.4M731.9,49.3L731.6,57.5M737.3,49.6L736.8,57.8M742.7,49.9L742.1,58.1M748.1,50.3L747.4,58.5M753.5,50.9L752.6,59.0M758.9,51.5L757.8,59.7M764.3,52.3L763.0,60.4M769.7,53.2L768.2,61.3M775.0,54.3L773.3,62.3M780.3,55.5L778.5,63.5M785.6,56.8L783.6,64.7M790.9,58.2L788.6,66.1M796.1,59.7L793.7,67.6M801.3,61.4L798.7,69.2M806.4,63.2L803.7,70.9M811.5,65.1L808.6,72.7M816.6,67.1L813.5,74.7M821.6,69.2L818.3,76.7M826.6,71.4L823.1,78.9M831.5,73.8L827.8,81.1M836.3,76.3L832.5,83.5M841.1,78.9L837.1,86.0M845.9,81.6L841.6,88.7M850.5,84.5L846.1,91.4M855.1,87.5L850.5,94.3M859.6,90.6L854.8,97.3M864.0,93.9L858.9,100.4M868.2,97.3L863.0,103.6M872.4,100.9L867.0,107.0M876.5,104.6L870.9,110.5M880.4,108.4L874.6,114.2M884.2,112.4L878.2,117.9M887.9,116.5L881.6,121.8M891.4,120.7L885.0,125.8M894.7,125.0L888.2,129.9M898.0,129.4L891.3,134.2M901.1,133.9L894.2,138.5M904.0,138.6L897.0,142.9M906.8,143.2L899.7,147.4M909.5,148.0L902.3,151.9M912.0,152.8L904.7,156.6M914.4,157.7L907.0,161.3M916.7,162.7L909.2,166.0M918.8,167.7L911.3,170.8M920.9,172.8L913.2,175.7M922.7,177.9L915.0,180.6M924.5,183.1L916.7,185.6M926.1,188.3L918.2,190.6M927.5,193.6L919.6,195.7M928.9,198.9L920.9,200.8M930.1,204.2L922.0,205.9M931.1,209.5L923.0,211.0M932.0,214.9L923.9,216.2M932.8,220.3L924.7,221.4M933.5,225.7L925.3,226.6M934.0,231.2L925.8,231.8M934.4,236.6L926.2,237.1M934.6,242.0L926.4,242.3M934.7,247.5L926.5,247.6M926.5,252.8L934.7,252.9M926.4,258.1L934.5,258.4M926.1,263.3L934.3,263.8M925.7,268.6L933.9,269.2M925.2,273.8L933.4,274.7M924.6,279.0L932.7,280.1M923.9,284.2L932.0,285.4M923.0,289.4L931.1,290.8M922.1,294.6L930.1,296.2M921.0,299.8L929.0,301.5M919.9,304.9L927.8,306.8M918.6,310.0L926.5,312.1M917.2,315.1L925.1,317.3M915.7,320.1L923.5,322.5M914.1,325.1L921.8,327.7M912.3,330.0L920.0,332.9M910.4,334.9L918.0,338.0M908.4,339.7L915.9,343.0M906.2,344.5L913.6,348.0M903.9,349.1L911.2,352.9M901.4,353.7L908.5,357.7M898.8,358.2L905.7,362.5M896.0,362.5L902.8,367.1M893.0,366.8L899.6,371.6M889.8,370.9L896.3,376.0M886.5,374.9L892.7,380.3M883.1,378.7L889.0,384.3M879.4,382.4L885.1,388.3M875.6,385.9L881.1,392.0M871.7,389.3L876.9,395.6M867.6,392.5L872.6,399.0M863.4,395.6L868.2,402.3M859.1,398.6L863.6,405.4M854.7,401.4L859.0,408.3M850.2,404.0L854.3,411.1M845.7,406.5L849.5,413.8M841.0,408.9L844.7,416.3M836.3,411.2L839.7,418.6M831.5,413.3L834.7,420.9M826.7,415.3L829.7,423.0M821.8,417.2L824.6,424.9M816.8,418.9L819.4,426.7M811.8,420.6L814.3,428.4M806.8,422.1L809.0,430.0M801.7,423.5L803.8,431.4M796.6,424.8L798.5,432.7M791.5,425.9L793.2,434.0M786.3,427.0L787.9,435.1M781.1,428.0L782.6,436.1M775.9,428.9L777.3,437.0M770.7,429.7L771.9,437.9M765.5,430.5L766.6,438.6M760.2,431.2L761.2,439.3M755.0,431.7L755.8,439.9M749.7,432.3L750.5,440.4M744.4,432.8L745.1,440.9M739.1,433.2L739.7,441.4M733.8,433.6L734.3,441.7M728.5,433.9L729.0,442.1M723.2,434.2L723.6,442.4M717.9,434.5L718.2,442.6M712.5,434.7L712.9,442.9M707.2,434.9L707.5,443.1M701.9,435.1L702.1,443.3M696.5,435.2L696.8,443.4M691.2,435.4L691.4,443.6M685.9,435.5L686.1,443.7M680.5,435.6L680.7,443.8M675.2,435.7L675.3,443.9M669.9,435.8L670.0,444.0M664.5,435.8L664.6,444.0M659.2,435.9L659.2,444.1M653.9,435.9L653.9,444.1M648.5,435.9L648.5,444.1M643.2,435.9L643.2,444.1M637.8,435.9L637.8,444.1M632.5,435.9L632.5,444.1M627.1,435.9L627.1,444.1M621.8,435.9L621.8,444.1M616.4,435.9L616.4,444.1M611.1,435.8L611.1,444.0M605.7,435.8L605.7,444.0M600.4,435.8L600.4,444.0M595.0,435.8L595.0,444.0M589.7,435.8L589.7,444.0M584.3,435.8L584.3,444.0M579.0,435.8L579.0,444.0M573.6,435.8L573.6,444.0M568.3,435.8L568.3,444.0M562.9,435.8L562.9,444.0M557.5,435.8L557.6,444.0M552.2,435.9L552.3,444.1M546.8,435.9L546.9,444.1M541.5,436.0L541.6,444.2M536.1,436.0L536.2,444.2M530.8,436.1L530.9,444.3M525.4,436.2L525.5,444.4M520.1,436.2L520.2,444.4M514.7,436.3L514.8,444.5M509.4,436.4L509.5,444.6M504.0,436.4L504.1,444.6M498.7,436.5L498.8,444.7M493.3,436.6L493.4,444.8M488.0,436.6L488.1,444.8M482.6,436.7L482.7,444.9M477.3,436.8L477.4,444.9M471.9,436.8L472.0,445.0M466.6,436.9L466.7,445.1M461.2,436.9L461.3,445.1M455.9,436.9L456.0,445.1M450.6,437.0L450.6,445.2M445.2,437.0L445.2,445.2M439.9,437.0L439.9,445.2M434.5,437.0L434.5,445.2M429.2,437.0L429.2,445.2M423.8,437.0L423.8,445.2M418.5,437.0L418.5,445.2M413.1,437.0L413.1,445.2M407.8,437.0L407.8,445.2M402.4,436.9L402.4,445.1M397.1,436.9L397.1,445.1M391.7,436.9L391.7,445.1M386.4,436.9L386.3,445.0M381.1,436.8L381.0,445.0M375.7,436.8L375.6,445.0M370.4,436.7L370.3,444.9M365.0,436.7L364.9,444.9M359.7,436.7L359.6,444.9M354.3,436.6L354.2,444.8M349.0,436.6L348.9,444.8M343.6,436.6L343.5,444.8M338.3,436.5L338.2,444.7M332.9,436.5L332.9,444.7M327.5,436.5L327.5,444.7M322.2,436.4L322.2,444.6M316.8,436.4L316.8,444.6M311.5,436.4L311.4,444.6M306.2,436.3L306.1,444.5M300.8,436.3L300.7,444.4M295.5,436.2L295.3,444.4M290.2,436.0L290.0,444.2M284.9,435.8L284.6,444.0M279.6,435.6L279.2,443.8M274.3,435.3L273.8,443.5M269.0,435.0L268.4,443.2M263.7,434.6L263.0,442.7M258.5,434.1L257.6,442.2M253.2,433.5L252.2,441.6M248.0,432.8L246.9,440.9M242.8,432.0L241.5,440.1M237.6,431.1L236.1,439.2M232.4,430.1L230.8,438.2M227.3,429.0L225.5,437.0M222.2,427.7L220.2,435.7M217.2,426.4L214.9,434.2M212.2,424.8L209.7,432.6M207.2,423.1L204.5,430.8M202.4,421.3L199.4,428.9M197.5,419.3L194.3,426.8M192.8,417.2L189.3,424.6M188.1,414.9L184.4,422.2M183.4,412.5L179.5,419.7M178.9,409.9L174.7,417.0M174.4,407.2L170.1,414.2M170.0,404.4L165.4,411.2M165.7,401.4L160.9,408.1M161.4,398.4L156.5,404.9M157.3,395.2L152.2,401.6M153.3,391.8L148.0,398.1M149.3,388.4L143.8,394.5M145.5,384.8L139.8,390.7M141.8,381.1L136.0,386.9M138.2,377.4L132.2,382.9M134.8,373.5L128.6,378.8M131.4,369.4L125.0,374.6M128.2,365.3L121.7,370.3M125.2,361.1L118.4,365.8M122.2,356.8L115.4,361.3M119.4,352.4L112.4,356.7M116.8,347.9L109.7,351.9M114.3,343.3L107.0,347.1M112.0,338.6L104.6,342.2M109.8,333.9L102.3,337.3M107.7,329.1L100.1,332.2M105.7,324.2L98.1,327.2M104.0,319.3L96.2,322.0M102.3,314.3L94.5,316.8M100.8,309.3L92.9,311.6M99.4,304.3L91.5,306.4M98.1,299.2L90.1,301.1M97.0,294.1L89.0,295.7M96.0,288.9L87.9,290.4M95.1,283.7L87.0,285.0M94.3,278.5L86.2,279.6M93.7,273.3L85.5,274.2M93.1,268.1L85.0,268.8M92.7,262.9L84.5,263.4M92.4,257.6L84.2,258.0M92.3,252.4L84.1,252.5M84.0,247.1L92.2,247.1M84.2,241.6L92.3,241.9M84.4,236.1L92.6,236.7M84.9,230.7L93.0,231.5M85.5,225.2L93.6,226.3M86.2,219.8L94.3,221.1M87.2,214.4L95.3,216.0M88.4,209.0L96.4,210.9M89.7,203.7L97.6,205.8M91.3,198.4L99.1,200.8M93.0,193.2L100.7,195.9M94.9,188.1L102.5,191.0M96.9,183.0L104.5,186.2M99.2,178.0L106.6,181.4M101.6,173.0L108.9,176.7M104.1,168.2L111.3,172.1M106.8,163.4L113.9,167.6M109.6,158.7L116.6,163.1M112.6,154.1L119.4,158.7M115.7,149.6L122.4,154.4M119.0,145.2L125.5,150.2M122.3,140.9L128.7,146.0M125.8,136.7L132.0,142.0M129.4,132.6L135.5,138.0M133.1,128.6L139.0,134.2M136.9,124.6L142.7,130.4M140.8,120.8L146.4,126.8M144.8,117.1L150.3,123.2M148.9,113.5L154.2,119.7M153.0,110.0L158.2,116.4M157.3,106.6L162.3,113.1M161.7,103.3L166.5,110.0M166.1,100.2L170.8,106.9M170.6,97.1L175.1,104.0M175.2,94.2L179.6,101.2M179.9,91.4L184.0,98.4M184.7,88.7L188.6,95.9M189.5,86.1L193.2,93.4M194.4,83.7L197.9,91.1M199.3,81.4L202.7,88.8M204.3,79.2L207.5,86.7M209.4,77.1L212.3,84.8M214.5,75.2L217.3,82.9M219.6,73.4L222.2,81.2M224.8,71.8L227.2,79.6M230.1,70.3L232.2,78.2M235.3,68.9L237.3,76.8M240.7,67.6L242.4,75.6M246.0,66.5L247.6,74.6M251.4,65.6L252.7,73.6M256.7,64.7L257.9,72.8M262.1,64.0L263.1,72.1M267.5,63.4L268.4,71.5M272.9,62.8L273.6,71.0M278.3,62.4L278.9,70.6M283.7,62.0L284.2,70.2M289.1,61.7L289.5,69.9M294.4,61.5L294.8,69.7M299.8,61.2L300.1,69.4M305.2,61.1L305.4,69.3M310.5,60.9L310.8,69.1M315.9,60.7L316.1,68.9" stroke="#a99d9c" stroke-width="1.9"/><path d="M320.1,71.2L320.2,73.6M325.5,71.0L325.6,73.4M330.8,70.9L330.9,73.2M336.2,70.7L336.3,73.1M341.6,70.5L341.6,72.9M346.9,70.3L347.0,72.7M352.3,70.1L352.3,72.5M357.6,69.9L357.7,72.3M363.0,69.7L363.1,72.1M368.3,69.5L368.4,71.9M373.7,69.3L373.8,71.7M379.0,69.1L379.1,71.5M384.4,68.9L384.4,71.3M389.7,68.7L389.8,71.1M395.0,68.5L395.1,70.8M400.4,68.2L400.5,70.6M405.7,68.0L405.8,70.4M411.1,67.8L411.2,70.2M416.4,67.6L416.5,70.0M421.8,67.4L421.8,69.8M427.1,67.3L427.2,69.6M432.4,67.1L432.5,69.5M437.8,66.9L437.9,69.3M443.1,66.7L443.2,69.1M448.4,66.6L448.5,68.9M453.8,66.4L453.9,68.8M459.1,66.3L459.2,68.6M464.5,66.1L464.5,68.5M469.8,66.0L469.9,68.4M475.1,65.9L475.2,68.3M480.5,65.7L480.5,68.1M485.8,65.6L485.9,68.0M491.2,65.5L491.2,67.9M496.5,65.4L496.6,67.8M501.9,65.3L501.9,67.7M507.2,65.2L507.3,67.6M512.6,65.1L512.6,67.5M517.9,65.0L518.0,67.4M523.3,64.9L523.3,67.3M528.6,64.8L528.7,67.2M534.0,64.7L534.0,67.1M539.3,64.6L539.4,67.0M544.7,64.5L544.7,66.9M550.0,64.4L550.1,66.7M555.4,64.2L555.4,66.6M560.7,64.1L560.8,66.5M566.1,64.0L566.1,66.4M571.4,63.9L571.5,66.2M576.8,63.7L576.9,66.1M582.2,63.6L582.2,66.0M587.5,63.4L587.6,65.8M592.9,63.3L592.9,65.6M598.2,63.1L598.3,65.5M603.6,62.9L603.6,65.3M608.9,62.8L609.0,65.1M614.3,62.6L614.3,65.0M619.6,62.4L619.7,64.8M625.0,62.2L625.0,64.6M630.3,62.1L630.4,64.4M635.7,61.9L635.7,64.3M641.0,61.7L641.1,64.1M646.4,61.5L646.4,63.9M651.7,61.3L651.8,63.7M657.0,61.2L657.1,63.6M662.4,61.0L662.5,63.4M667.7,60.8L667.8,63.2M673.1,60.7L673.2,63.0M678.4,60.5L678.5,62.9M683.8,60.3L683.8,62.7M689.1,60.2L689.2,62.6M694.4,60.0L694.5,62.4M699.8,59.9L699.8,62.3M705.1,59.8L705.1,62.2M710.4,59.7L710.4,62.1M715.7,59.7L715.7,62.0M721.0,59.7L720.9,62.1M726.2,59.7L726.2,62.1M731.5,59.9L731.4,62.3M736.7,60.1L736.6,62.5M742.0,60.4L741.8,62.8M747.2,60.8L746.9,63.2M752.3,61.4L752.1,63.7M757.5,62.0L757.2,64.4M762.6,62.7L762.3,65.1M767.7,63.6L767.3,66.0M772.9,64.6L772.4,67.0M777.9,65.8L777.4,68.1M783.0,67.0L782.4,69.3M788.0,68.4L787.3,70.7M793.0,69.8L792.3,72.1M797.9,71.4L797.2,73.7M802.9,73.1L802.1,75.4M807.7,74.9L806.9,77.2M812.6,76.9L811.7,79.1M817.4,78.9L816.4,81.1M822.1,81.0L821.1,83.2M826.8,83.3L825.7,85.4M831.4,85.6L830.3,87.7M836.0,88.1L834.8,90.2M840.4,90.7L839.2,92.7M844.8,93.4L843.6,95.4M849.2,96.2L847.8,98.2M853.4,99.2L852.0,101.1M857.5,102.3L856.1,104.1M861.5,105.4L860.0,107.3M865.5,108.8L863.9,110.6M869.3,112.2L867.6,114.0M872.9,115.8L871.2,117.5M876.5,119.5L874.7,121.1M879.9,123.3L878.1,124.9M883.2,127.3L881.3,128.7M886.4,131.3L884.5,132.7M889.4,135.5L887.5,136.8M892.3,139.7L890.4,141.0M895.1,144.1L893.1,145.3M897.8,148.5L895.8,149.7M900.3,153.0L898.3,154.1M902.8,157.6L900.7,158.6M905.1,162.2L903.0,163.2M907.2,166.9L905.1,167.8M909.3,171.7L907.2,172.5M911.2,176.5L909.1,177.3M913.1,181.3L910.9,182.1M914.7,186.2L912.6,186.9M916.3,191.2L914.2,191.8M917.8,196.2L915.6,196.7M919.1,201.2L917.0,201.7M920.3,206.3L918.2,206.7M921.4,211.3L919.3,211.7M922.4,216.5L920.3,216.8M923.2,221.6L921.2,221.9M923.9,226.7L921.9,227.0M924.6,231.9L922.6,232.1M925.1,237.1L923.1,237.2M925.5,242.3L923.6,242.4M925.7,247.6L923.9,247.6M925.9,252.8L924.2,252.8M926.0,258.0L924.3,258.0M925.9,263.3L924.4,263.2M925.8,268.6L924.3,268.4M925.5,273.8L924.2,273.7M925.2,279.1L923.9,278.9M924.8,284.4L923.6,284.2M924.2,289.6L923.2,289.4M923.6,294.9L922.6,294.7M909.9,352.3L910.8,352.7M907.8,357.3L908.8,357.9M905.5,362.3L906.6,363.0M902.9,367.2L904.2,368.1M900.0,371.9L901.4,372.9M897.0,376.6L898.4,377.7M893.6,381.0L895.1,382.3M890.1,385.3L891.5,386.7M886.3,389.5L887.7,391.0M882.3,393.4L883.7,395.0M878.1,397.1L879.5,398.8M873.8,400.6L875.2,402.4M869.4,404.0L870.7,405.8M864.8,407.1L866.1,409.1M860.1,410.2L861.4,412.1M855.4,413.0L856.5,415.0M850.6,415.7L851.7,417.8M845.6,418.3L846.7,420.4M840.7,420.7L841.6,422.8M835.6,423.0L836.6,425.1M830.5,425.1L831.4,427.3M825.4,427.1L826.2,429.3M820.2,428.9L821.0,431.1M815.0,430.6L815.7,432.9M809.7,432.2L810.3,434.5M804.4,433.7L805.0,436.0M799.1,435.0L799.6,437.3M793.7,436.2L794.3,438.6M788.4,437.4L788.9,439.7M783.0,438.4L783.5,440.7M777.6,439.3L778.0,441.7M772.3,440.2L772.6,442.5M766.9,440.9L767.2,443.3M761.5,441.6L761.8,444.0M756.1,442.2L756.3,444.6M750.7,442.8L750.9,445.2M745.3,443.3L745.5,445.7M739.9,443.7L740.1,446.1M734.5,444.1L734.7,446.5M729.1,444.4L729.3,446.8M723.7,444.7L723.9,447.1M718.3,445.0L718.5,447.4M713.0,445.2L713.1,447.6M707.6,445.5L707.7,447.8M702.2,445.6L702.3,448.0M696.8,445.8L696.9,448.2M691.5,446.0L691.5,448.3M686.1,446.1L686.2,448.5M680.7,446.2L680.8,448.6M675.4,446.3L675.4,448.7M670.0,446.3L670.0,448.7M664.6,446.4L664.6,448.8M659.3,446.4L659.3,448.8M653.9,446.5L653.9,448.8M648.5,446.5L648.5,448.9M643.2,446.5L643.2,448.9M637.8,446.5L637.8,448.9M632.5,446.5L632.5,448.9M627.1,446.5L627.1,448.8M621.7,446.4L621.7,448.8M616.4,446.4L616.4,448.8M611.0,446.4L611.0,448.8M605.7,446.4L605.7,448.8M600.3,446.4L600.3,448.8M595.0,446.3L595.0,448.7M589.7,446.3L589.7,448.7M584.3,446.3L584.3,448.7M579.0,446.3L579.0,448.7M573.6,446.3L573.6,448.7M568.3,446.4L568.3,448.7M563.0,446.4L563.0,448.8M557.6,446.4L557.6,448.8M552.3,446.5L552.3,448.8M546.9,446.5L546.9,448.9M541.6,446.6L541.6,448.9M536.2,446.6L536.3,449.0M530.9,446.7L530.9,449.1M525.5,446.7L525.6,449.1M520.2,446.8L520.2,449.2M514.9,446.9L514.9,449.3M509.5,446.9L509.5,449.3M504.2,447.0L504.2,449.4M498.8,447.1L498.8,449.5M493.5,447.1L493.5,449.5M488.1,447.2L488.1,449.6M482.7,447.3L482.8,449.6M477.4,447.3L477.4,449.7M472.0,447.4L472.1,449.8M466.7,447.4L466.7,449.8M461.3,447.5L461.3,449.9M456.0,447.5L456.0,449.9M450.6,447.5L450.6,449.9M445.2,447.6L445.3,449.9M439.9,447.6L439.9,450.0M434.5,447.6L434.5,450.0M429.2,447.6L429.2,450.0M423.8,447.6L423.8,450.0M418.5,447.6L418.5,450.0M413.1,447.6L413.1,449.9M407.7,447.5L407.7,449.9M402.4,447.5L402.4,449.9M397.0,447.5L397.0,449.9M391.7,447.4L391.7,449.8M386.3,447.4L386.3,449.8M381.0,447.4L381.0,449.8M375.6,447.3L375.6,449.7M370.3,447.3L370.3,449.7M364.9,447.3L364.9,449.7M359.6,447.2L359.6,449.6M354.2,447.2L354.2,449.6M348.9,447.2L348.9,449.5M343.5,447.1L343.5,449.5M338.2,447.1L338.2,449.5M332.8,447.1L332.8,449.4M327.5,447.0L327.5,449.4M322.1,447.0L322.1,449.4M316.8,447.0L316.8,449.4M311.4,446.9L311.4,449.3M306.1,446.9L306.0,449.3M300.7,446.8L300.6,449.2M295.3,446.7L295.2,449.1M289.9,446.6L289.8,449.0M284.5,446.4L284.4,448.8M279.1,446.2L279.0,448.5M273.7,445.9L273.5,448.3M268.2,445.5L268.1,447.9M262.8,445.1L262.6,447.5M257.4,444.6L257.1,446.9M252.0,444.0L251.7,446.3M246.5,443.3L246.2,445.6M241.1,442.4L240.7,444.8M235.7,441.5L235.3,443.9M230.3,440.5L229.8,442.8M224.9,439.3L224.4,441.6M219.6,437.9L219.0,440.2M214.2,436.5L213.6,438.7M208.9,434.8L208.2,437.1M203.7,433.0L202.9,435.2M198.5,431.0L197.7,433.2M193.4,428.9L192.5,431.1M188.3,426.6L187.4,428.8M183.4,424.2L182.3,426.3M178.5,421.6L177.4,423.7M173.7,418.9L172.5,420.9M168.9,416.0L167.7,418.0M164.3,413.0L163.0,414.9M159.7,409.8L158.4,411.7M155.3,406.5L153.9,408.3M151.0,403.1L149.6,404.8M146.8,399.5L145.3,401.2M142.7,395.8L141.2,397.4M138.7,391.9L137.2,393.4M134.9,387.9L133.4,389.4M131.2,383.8L129.7,385.2M127.7,379.5L126.2,380.8M124.3,375.2L122.9,376.3M121.1,370.7L119.7,371.7M118.2,366.0L116.8,367.0M115.4,361.3L114.1,362.1M112.8,356.4L111.7,357.1M110.5,351.5L109.4,352.0M108.3,346.5L107.4,346.9M95.3,294.4L96.2,294.2M94.7,289.2L95.7,289.0M94.1,283.9L95.2,283.7M93.6,278.6L94.9,278.5M93.3,273.4L94.7,273.2M93.0,268.1L94.5,268.0M92.8,262.8L94.4,262.7M92.8,257.6L94.5,257.5M92.8,252.4L94.6,252.3M93.0,247.1L94.8,247.1M93.4,241.9L95.2,242.0M93.8,236.7L95.7,236.9M94.4,231.6L96.4,231.8M95.1,226.5L97.1,226.7M95.9,221.4L98.0,221.7M97.0,216.3L99.1,216.7M98.2,211.3L100.3,211.8M99.5,206.3L101.6,206.9M101.0,201.4L103.1,202.1M102.7,196.6L104.8,197.3M104.5,191.8L106.6,192.6M106.4,187.0L108.6,187.9M108.6,182.3L110.7,183.3M110.9,177.7L112.9,178.8M113.3,173.2L115.3,174.3M115.8,168.7L117.8,169.9M118.5,164.3L120.5,165.5M121.3,160.0L123.3,161.3M124.3,155.7L126.2,157.1M127.3,151.6L129.2,153.0M130.5,147.5L132.4,149.0M133.8,143.5L135.6,145.0M137.2,139.6L139.0,141.2M140.7,135.8L142.4,137.4M144.3,132.1L146.0,133.7M148.0,128.4L149.7,130.2M151.8,124.9L153.4,126.7M155.7,121.5L157.3,123.3M159.7,118.2L161.2,120.0M163.8,115.0L165.2,116.8M167.9,111.8L169.3,113.8M172.1,108.8L173.5,110.8M176.4,105.9L177.7,107.9M180.8,103.2L182.1,105.2M185.2,100.5L186.4,102.5M189.7,97.9L190.9,100.0M194.3,95.5L195.4,97.6M199.0,93.2L200.0,95.3M203.7,91.0L204.6,93.2M208.4,88.9L209.3,91.1M213.2,87.0L214.1,89.2M218.1,85.2L218.9,87.4M223.0,83.5L223.7,85.7M227.9,81.9L228.6,84.2M232.9,80.5L233.5,82.8M237.9,79.1L238.5,81.5M242.9,77.9L243.5,80.3M248.0,76.9L248.5,79.2M253.1,76.0L253.5,78.3M258.3,75.2L258.6,77.5M263.4,74.5L263.7,76.8M268.6,73.9L268.9,76.2M273.8,73.4L274.1,75.7M279.1,72.9L279.3,75.3M284.3,72.6L284.5,75.0M289.6,72.3L289.7,74.7M294.9,72.0L295.0,74.4M300.2,71.8L300.3,74.2M305.5,71.6L305.6,74.0M310.9,71.5L310.9,73.8M316.2,71.3L316.3,73.7" stroke="#928a90" stroke-width="1.9"/><path d="M319.8,60.2 L323.8,60.0 L327.8,59.9 L331.8,59.8 L335.8,59.6 L339.8,59.5 L343.8,59.4 L347.8,59.2 L351.8,59.1 L355.7,58.9 L359.7,58.8 L363.7,58.6 L367.7,58.5 L371.7,58.3 L375.7,58.2 L379.7,58.0 L383.7,57.8 L387.7,57.7 L391.7,57.5 L395.7,57.4 L399.7,57.2 L403.7,57.1 L407.7,56.9 L411.7,56.8 L415.7,56.6 L419.7,56.5 L423.7,56.3 L427.7,56.2 L431.7,56.0 L435.7,55.9 L439.7,55.8 L443.7,55.7 L447.7,55.5 L451.7,55.4 L455.7,55.3 L459.7,55.2 L463.7,55.1 L467.7,55.0 L471.7,54.9 L475.7,54.8 L479.7,54.7 L483.7,54.6 L487.7,54.5 L491.8,54.5 L495.8,54.4 L499.8,54.3 L503.8,54.2 L507.8,54.1 L511.8,54.1 L515.8,54.0 L519.8,53.9 L523.8,53.8 L527.7,53.8 L531.7,53.7 L535.7,53.6 L539.7,53.5 L543.7,53.4 L547.7,53.4 L551.7,53.3 L555.7,53.2 L559.7,53.1 L563.7,53.0 L567.7,52.9 L571.7,52.8 L575.7,52.7 L579.7,52.6 L583.7,52.5 L587.7,52.4 L591.7,52.2 L595.7,52.1 L599.7,52.0 L603.7,51.9 L607.7,51.8 L611.7,51.6 L615.7,51.5 L619.7,51.4 L623.7,51.2 L627.6,51.1 L631.6,51.0 L635.6,50.8 L639.6,50.7 L643.6,50.6 L647.6,50.4 L651.6,50.3 L655.6,50.2 L659.6,50.0 L663.6,49.9 L667.6,49.8 L671.6,49.7 L675.6,49.5 L679.6,49.4 L683.6,49.3 L687.6,49.2 L691.6,49.0 L695.6,48.9 L699.7,48.8 L703.7,48.8 L707.7,48.7 L711.7,48.6 L715.8,48.6 L719.8,48.6 L723.8,48.7 L727.9,48.7 L731.9,48.9 L736.0,49.0 L740.0,49.2 L744.1,49.5 L748.1,49.8 L752.2,50.2 L756.2,50.7 L760.3,51.2 L764.3,51.8 L768.4,52.5 L772.4,53.3 L776.4,54.1 L780.3,55.0 L784.3,55.9 L788.3,57.0 L792.2,58.1 L796.1,59.2 L800.0,60.5 L803.8,61.8 L807.7,63.1 L811.5,64.6 L815.3,66.0 L819.1,67.6 L822.8,69.2 L826.5,70.9 L830.2,72.6 L833.9,74.5 L837.5,76.4 L841.1,78.3 L844.6,80.3 L848.2,82.5 L851.6,84.6 L855.0,86.9 L858.4,89.2 L861.7,91.6 L865.0,94.1 L868.2,96.7 L871.4,99.3 L874.4,102.1 L877.5,104.9 L880.4,107.7 L883.3,110.7 L886.1,113.7 L888.8,116.8 L891.4,120.0 L893.9,123.2 L896.4,126.5 L898.8,129.9 L901.1,133.2 L903.3,136.7 L905.5,140.2 L907.5,143.7 L909.5,147.3 L911.4,150.9 L913.3,154.6 L915.0,158.2 L916.7,162.0 L918.3,165.7 L919.9,169.5 L921.3,173.3 L922.7,177.2 L924.0,181.0 L925.3,184.9 L926.4,188.9 L927.5,192.8 L928.5,196.8 L929.4,200.7 L930.2,204.7 L931.0,208.7 L931.6,212.8 L932.2,216.8 L932.7,220.8 L933.2,224.9 L933.5,228.9 L933.8,233.0 L934.0,237.1 L934.1,241.1 L934.1,245.2 L934.0,249.3 L933.9,253.3 L933.7,257.4 L933.4,261.4 L933.0,265.5 L932.6,269.5 L932.1,273.5 L931.5,277.5 L930.8,281.5 L930.1,285.5 L929.3,289.4 L928.4,293.4 L927.5,297.3 L926.5,301.2 L925.4,305.1 L924.3,308.9 L923.1,312.8 L921.8,316.6 L920.4,320.4 L919.0,324.1 L917.4,327.8 L915.8,331.5 L914.1,335.1 L912.3,338.7 L910.4,342.2 L908.5,345.6 L906.5,349.1 L904.4,352.4 L902.2,355.7 L900.0,359.0 L897.7,362.1 L895.3,365.2 L892.8,368.3 L890.3,371.3 L887.7,374.2 L885.0,377.0 L882.3,379.7 L879.5,382.4 L876.6,385.0 L873.7,387.5 L870.7,389.9 L867.6,392.3 L864.4,394.6 L861.2,396.8 L858.0,398.9 L854.7,401.0 L851.3,403.0 L847.9,404.9 L844.5,406.7 L841.0,408.5 L837.5,410.2 L833.9,411.8 L830.4,413.4 L826.7,414.9 L823.1,416.3 L819.4,417.6 L815.7,418.9 L812.0,420.1 L808.2,421.2 L804.5,422.3 L800.7,423.3 L796.9,424.2 L793.0,425.1 L789.2,426.0 L785.3,426.8 L781.5,427.5 L777.6,428.2 L773.7,428.8 L769.8,429.4 L765.9,430.0 L761.9,430.5 L758.0,430.9 L754.1,431.4 L750.1,431.8 L746.2,432.1 L742.2,432.5 L738.3,432.8 L734.3,433.1 L730.4,433.3 L726.4,433.5 L722.4,433.8 L718.4,434.0 L714.5,434.1 L710.5,434.3 L706.5,434.5 L702.5,434.6 L698.5,434.7 L694.6,434.8 L690.6,434.9 L686.6,435.0 L682.6,435.1 L678.6,435.2 L674.6,435.2 L670.6,435.3 L666.6,435.3 L662.6,435.4 L658.7,435.4 L654.7,435.4 L650.7,435.4 L646.7,435.4 L642.7,435.4 L638.7,435.4 L634.7,435.4 L630.7,435.4 L626.7,435.4 L622.7,435.4 L618.7,435.4 L614.7,435.4 L610.7,435.4 L606.7,435.3 L602.7,435.3 L598.7,435.3 L594.7,435.3 L590.7,435.3 L586.7,435.3 L582.7,435.3 L578.7,435.3 L574.7,435.3 L570.7,435.3 L566.7,435.3 L562.7,435.3 L558.7,435.4 L554.6,435.4 L550.6,435.4 L546.6,435.5 L542.6,435.5 L538.6,435.5 L534.6,435.6 L530.6,435.6 L526.6,435.7 L522.6,435.7 L518.6,435.8 L514.6,435.8 L510.6,435.9 L506.6,435.9 L502.6,436.0 L498.6,436.0 L494.6,436.1 L490.6,436.1 L486.6,436.2 L482.6,436.2 L478.6,436.3 L474.6,436.3 L470.6,436.3 L466.6,436.4 L462.7,436.4 L458.7,436.4 L454.7,436.5 L450.7,436.5 L446.7,436.5 L442.7,436.5 L438.7,436.5 L434.7,436.5 L430.7,436.5 L426.7,436.5 L422.7,436.5 L418.7,436.5 L414.7,436.5 L410.7,436.5 L406.7,436.5 L402.7,436.5 L398.7,436.4 L394.7,436.4 L390.7,436.4 L386.7,436.4 L382.7,436.3 L378.7,436.3 L374.7,436.3 L370.7,436.3 L366.7,436.2 L362.7,436.2 L358.7,436.2 L354.7,436.2 L350.7,436.1 L346.7,436.1 L342.7,436.1 L338.7,436.0 L334.7,436.0 L330.7,436.0 L326.7,436.0 L322.7,436.0 L318.7,435.9 L314.7,435.9 L310.7,435.9 L306.7,435.9 L302.8,435.8 L298.8,435.7 L294.8,435.7 L290.8,435.6 L286.9,435.4 L282.9,435.3 L278.9,435.1 L275.0,434.9 L271.0,434.7 L267.1,434.4 L263.1,434.1 L259.2,433.7 L255.3,433.3 L251.4,432.8 L247.5,432.3 L243.6,431.7 L239.7,431.1 L235.9,430.4 L232.0,429.6 L228.2,428.8 L224.4,427.8 L220.6,426.9 L216.9,425.8 L213.1,424.7 L209.4,423.4 L205.8,422.1 L202.1,420.7 L198.5,419.3 L194.9,417.7 L191.4,416.1 L187.9,414.4 L184.4,412.6 L181.0,410.7 L177.6,408.8 L174.3,406.8 L171.0,404.7 L167.7,402.5 L164.5,400.3 L161.3,398.0 L158.2,395.7 L155.2,393.2 L152.2,390.8 L149.2,388.2 L146.3,385.6 L143.5,382.9 L140.7,380.2 L137.9,377.4 L135.2,374.5 L132.6,371.6 L130.1,368.7 L127.5,365.7 L125.1,362.6 L122.7,359.5 L120.4,356.3 L118.1,353.1 L115.9,349.8 L113.7,346.5 L111.6,343.2 L109.6,339.7 L107.7,336.3 L105.8,332.7 L104.0,329.2 L102.3,325.6 L100.6,321.9 L99.1,318.2 L97.6,314.5 L96.2,310.7 L94.8,306.9 L93.6,303.1 L92.4,299.3 L91.4,295.4 L90.4,291.5 L89.4,287.5 L88.6,283.6 L87.9,279.6 L87.2,275.6 L86.6,271.6 L86.1,267.6 L85.6,263.5 L85.3,259.5 L85.0,255.5 L84.8,251.4 L84.7,247.3 L84.6,243.3 L84.7,239.2 L84.8,235.1 L85.1,231.0 L85.4,226.9 L85.9,222.9 L86.4,218.8 L87.1,214.8 L87.9,210.7 L88.8,206.7 L89.8,202.7 L90.9,198.8 L92.1,194.8 L93.5,191.0 L94.9,187.1 L96.5,183.3 L98.1,179.5 L99.8,175.8 L101.6,172.1 L103.5,168.5 L105.5,164.9 L107.6,161.3 L109.7,157.8 L112.0,154.4 L114.3,151.0 L116.6,147.7 L119.1,144.4 L121.6,141.1 L124.2,138.0 L126.8,134.8 L129.5,131.8 L132.3,128.8 L135.1,125.8 L138.0,122.9 L140.9,120.1 L143.9,117.3 L147.0,114.5 L150.1,111.9 L153.2,109.3 L156.4,106.7 L159.7,104.2 L162.9,101.8 L166.3,99.5 L169.7,97.2 L173.1,95.0 L176.6,92.8 L180.1,90.7 L183.7,88.7 L187.2,86.7 L190.9,84.9 L194.5,83.1 L198.2,81.3 L202.0,79.7 L205.8,78.1 L209.5,76.5 L213.4,75.1 L217.2,73.7 L221.1,72.4 L225.0,71.2 L228.9,70.1 L232.9,69.0 L236.8,68.0 L240.8,67.1 L244.8,66.3 L248.8,65.5 L252.9,64.8 L256.9,64.2 L260.9,63.6 L265.0,63.2 L269.0,62.7 L273.0,62.3 L277.1,62.0 L281.1,61.7 L285.1,61.5 L289.2,61.2 L293.2,61.0 L297.2,60.9 L301.2,60.7 L305.2,60.6 L309.2,60.5 L313.3,60.3 L317.3,60.2Z" fill="none" stroke="#d9c3a4" stroke-width="1.0" stroke-linejoin="round"/><rect x="108.5" y="608.5" width="410" height="215.5" fill="url(#matp)"/><rect x="108.5" y="815" width="410" height="9" fill="#b8b2a0" opacity="0.45"/><rect x="120.4" y="623.8" width="389" height="192" fill="url(#dots)"/><g stroke="#16785c" stroke-width="4.4" fill="none" stroke-linejoin="round"><path d="M403.2,672.6 L423.7,672.6 L431.1,679.9 L431.1,712.1 L426.7,715.8 L409.1,715.8 L398.8,705.5 L369.5,705.5"/><path d="M330.0,685.0 L348.3,685.0 L354.2,690.9 L409.8,690.9 L421.5,701.9"/><path d="M330.0,692.4 L346.1,692.4 L352.0,698.2 L404.0,698.2 L413.5,704.8"/><path d="M347.6,698.9 L347.6,737.0 L353.4,742.9"/><path d="M441.3,668.2 L466.2,693.1 L466.2,783.9"/><path d="M415.0,720.9 L464.8,720.9"/><path d="M395.9,713.6 L425.2,742.9 L425.2,783.9"/><path d="M379.8,732.6 L406.2,732.6 L417.9,744.4 L417.9,783.9"/><path d="M376.9,739.2 L403.2,739.2 L412.0,748.0 L412.0,751.7"/><path d="M356.4,749.5 L409.1,750.9"/><path d="M359.3,757.5 L412.0,757.5 L415.0,760.5 L415.0,769.3"/><path d="M350.5,767.8 L410.6,769.3"/><path d="M353.4,775.1 L403.2,775.8"/><path d="M330.0,720.9 L338.8,720.9 L349.0,731.2 L349.0,751.7 L359.3,761.9"/><path d="M139.5,682.0 L202.0,682.0 L211.8,672.2 L211.8,657.6 L229.4,640.0"/><path d="M141.5,685.9 L159.1,703.5 L159.1,722.0 L178.6,741.6 L221.6,741.6 L229.4,749.4 L256.7,749.4"/><path d="M164.9,696.6 L184.5,696.6 L194.2,686.9 L221.6,686.9 L233.3,675.2 L233.3,657.6"/><path d="M143.4,698.6 L143.4,737.7 L147.3,741.6"/><path d="M172.7,714.2 L172.7,722.0 L186.4,735.7 L205.9,735.7"/><path d="M237.2,714.2 L276.2,714.2 L282.1,720.1 L320.0,720.1"/><path d="M239.1,725.9 L320.0,725.9"/><path d="M241.1,741.6 L256.7,757.2 L320.0,757.2"/><path d="M159.1,749.4 L178.6,749.4"/></g><g stroke="#3cba8a" stroke-width="2.4" fill="none" stroke-linejoin="round"><path d="M403.2,672.6 L423.7,672.6 L431.1,679.9 L431.1,712.1 L426.7,715.8 L409.1,715.8 L398.8,705.5 L369.5,705.5"/><path d="M330.0,685.0 L348.3,685.0 L354.2,690.9 L409.8,690.9 L421.5,701.9"/><path d="M330.0,692.4 L346.1,692.4 L352.0,698.2 L404.0,698.2 L413.5,704.8"/><path d="M347.6,698.9 L347.6,737.0 L353.4,742.9"/><path d="M441.3,668.2 L466.2,693.1 L466.2,783.9"/><path d="M415.0,720.9 L464.8,720.9"/><path d="M395.9,713.6 L425.2,742.9 L425.2,783.9"/><path d="M379.8,732.6 L406.2,732.6 L417.9,744.4 L417.9,783.9"/><path d="M376.9,739.2 L403.2,739.2 L412.0,748.0 L412.0,751.7"/><path d="M356.4,749.5 L409.1,750.9"/><path d="M359.3,757.5 L412.0,757.5 L415.0,760.5 L415.0,769.3"/><path d="M350.5,767.8 L410.6,769.3"/><path d="M353.4,775.1 L403.2,775.8"/><path d="M330.0,720.9 L338.8,720.9 L349.0,731.2 L349.0,751.7 L359.3,761.9"/><path d="M139.5,682.0 L202.0,682.0 L211.8,672.2 L211.8,657.6 L229.4,640.0"/><path d="M141.5,685.9 L159.1,703.5 L159.1,722.0 L178.6,741.6 L221.6,741.6 L229.4,749.4 L256.7,749.4"/><path d="M164.9,696.6 L184.5,696.6 L194.2,686.9 L221.6,686.9 L233.3,675.2 L233.3,657.6"/><path d="M143.4,698.6 L143.4,737.7 L147.3,741.6"/><path d="M172.7,714.2 L172.7,722.0 L186.4,735.7 L205.9,735.7"/><path d="M237.2,714.2 L276.2,714.2 L282.1,720.1 L320.0,720.1"/><path d="M239.1,725.9 L320.0,725.9"/><path d="M241.1,741.6 L256.7,757.2 L320.0,757.2"/><path d="M159.1,749.4 L178.6,749.4"/></g><rect x="115" y="621" width="62.5" height="38" fill="#1c1c1c"/><rect x="115" y="621" width="13" height="38" fill="#2b2b2b"/><rect x="156" y="616" width="21" height="7" fill="#262626"/><rect x="135" y="630" width="40" height="5" fill="#333" opacity="0.6"/><rect x="177.3" y="626" width="8.7" height="26.6" fill="#c9c9c4" stroke="#f0f0f0" stroke-width="1"/><rect x="148" y="656" width="27" height="13" fill="#a9a9a4" stroke="#f2f2f2" stroke-width="1"/><circle cx="137.6" cy="665.5" r="7.5" fill="#a09f86"/><circle cx="483.7" cy="645" r="8" fill="#b4b29a" stroke="#1d7a4a" stroke-width="1"/><circle cx="487" cy="795" r="8" fill="#a8a68e" stroke="#1d7a4a" stroke-width="1"/><circle cx="167.7" cy="800" r="8.2" fill="#bdb9a0" stroke="#1a6f44" stroke-width="1.2"/><g font-family="Liberation Mono" font-weight="bold" fill="#f2f2f2"><text x="147" y="679" font-size="7.5">6-24V IN</text><text x="233" y="706" font-size="8">speed</text><text x="199" y="685" font-size="6.5">10uF</text><text x="231" y="736.5" font-size="11">master</text><text x="277" y="736.5" font-size="11">board</text><text x="353" y="669" font-size="6.5">12Vout</text><text x="352" y="678" font-size="7">-    +</text><text x="409" y="667" font-size="9.5">C R T</text><text x="460" y="655" font-size="10">SS</text><text x="459" y="798" font-size="10">PS</text><text x="462" y="674" font-size="8.5">V+</text><text x="466" y="697" font-size="8.5">G</text><text x="463" y="722" font-size="8.5">Y1</text><text x="466" y="743" font-size="8.5">R</text><text x="463" y="766" font-size="8.5">Y2</text><text x="411" y="781" font-size="9">C R T</text><text x="336" y="785" font-size="6.5">slave + -</text><text x="342" y="716" font-size="5.5">MB</text><text x="342" y="734" font-size="5.5">MI</text><text x="342" y="754" font-size="5.5">MS</text><text x="152" y="726" font-size="6">OUT2</text><text x="152" y="764" font-size="6">OUT1</text><text x="154" y="805" font-size="6">N</text><text x="208" y="768" font-size="5.5">TR</text><text x="236" y="768" font-size="5.5">TY1</text><text x="263" y="768" font-size="5.5">TY2</text><text x="296" y="768" font-size="5.5">TS</text></g><path d="M222,629 L251.5,629 L251.5,664.4 L222,664.4 L216,657 L216,636 Z" fill="none" stroke="#eef5ee" stroke-width="1.1"/><rect x="219" y="637" width="29" height="23" fill="#1e2a24"/><rect x="210" y="644" width="48" height="2.6" fill="#c8c8c8"/><circle cx="233.2" cy="645" r="13.8" fill="#dcdcd6"/><path d="M240.5,633.3 A13.8,13.8 0 0 1 240.5,656.7 Z" fill="#262626"/><text x="233" y="648" font-family="Liberation Sans" font-size="6.5" fill="#6a3a3a" text-anchor="middle" transform="rotate(90 233 645)">47 25V</text><rect x="230.7" y="664.7" width="33.7" height="31.4" rx="3" fill="#2f6fd0" stroke="#e8e8ee" stroke-width="0.8"/><circle cx="247.6" cy="680.8" r="13" fill="#f0f0ec"/><rect x="239" y="678.5" width="17" height="4" fill="#6a5a50"/><rect x="243" y="679.3" width="9" height="2.4" fill="#1d6a40"/><rect x="201" y="691.5" width="34" height="2.6" fill="#c8c8c8"/><rect x="208" y="686" width="18" height="17" fill="#1e2a24"/><circle cx="216.8" cy="693" r="9.2" fill="#d2d2cc" stroke="#444" stroke-width="0.8"/><rect x="314" y="630.5" width="32" height="2.2" fill="#c0c0c0"/><rect x="314" y="651" width="32" height="2.2" fill="#c0c0c0"/><rect x="321" y="624" width="18" height="19" fill="#1e2a24"/><rect x="321" y="644" width="18" height="19" fill="#1e2a24"/><circle cx="329.6" cy="632.4" r="8.8" fill="#d0d0ca" stroke="#333" stroke-width="0.8"/><circle cx="329.6" cy="652.2" r="8.8" fill="#d0d0ca" stroke="#333" stroke-width="0.8"/><text x="320" y="671" font-family="Liberation Mono" font-weight="bold" font-size="7" fill="#eef2ee">0uF</text><rect x="266" y="632.5" width="49" height="11.5" fill="none" stroke="#eef5ee" stroke-width="1.1"/><circle cx="279.8" cy="639" r="3.8" fill="#e2e2e0"/><circle cx="290.8" cy="639" r="3.8" fill="#e2e2e0"/><circle cx="301.8" cy="639" r="3.8" fill="#e2e2e0"/><rect x="269.6" y="644" width="45.4" height="40" fill="#2a2a2c"/><path d="M273.2,654.4 H311.3 V659 H308 V678.6 H276.5 V659 H273.2 Z" fill="#efefec"/><path d="M269,678.6 H315.7 V711.5 H273 L269,705 Z" fill="#efefec"/><circle cx="291.5" cy="698.3" r="7.4" fill="#0e5232"/><rect x="192.4" y="703.2" width="20.4" height="47.3" rx="10.2" fill="#bab3ac" stroke="#6a5f5a" stroke-width="1.2"/><rect x="197" y="712" width="11" height="30" rx="5" fill="#d6d0ca"/><rect x="315" y="709.3" width="24.7" height="13.0" fill="#e0e0e0"/><rect x="316" y="710.3" width="22.7" height="10.5" fill="#262626"/><rect x="315" y="727.6" width="24.7" height="13.0" fill="#e0e0e0"/><rect x="316" y="728.6" width="22.7" height="10.5" fill="#262626"/><rect x="315" y="744.8" width="24.7" height="15.0" fill="#e0e0e0"/><rect x="316" y="745.8" width="22.7" height="12.5" fill="#262626"/><circle cx="321" cy="712" r="1.5" fill="#ccc"/><circle cx="333" cy="712" r="1.5" fill="#ccc"/><circle cx="321" cy="730" r="1.5" fill="#ccc"/><circle cx="333" cy="730" r="1.5" fill="#ccc"/><rect x="345" y="624.7" width="50.6" height="37.6" fill="#4ea6e4"/><rect x="345" y="649" width="50.6" height="13.3" fill="#3482c4"/><circle cx="362.3" cy="638.7" r="7.5" fill="url(#scr)" stroke="#555" stroke-width="0.8"/><path d="M357.8,643.2 L366.8,634.2" stroke="#777" stroke-width="1.2"/><circle cx="383.8" cy="638.7" r="7.5" fill="url(#scr)" stroke="#555" stroke-width="0.8"/><path d="M379.3,643.2 L388.3,634.2" stroke="#777" stroke-width="1.2"/><rect x="372" y="631" width="2" height="15" fill="#111"/><circle cx="362" cy="656" r="1.3" fill="#111"/><circle cx="384" cy="656" r="1.3" fill="#111"/><rect x="407.4" y="626.8" width="49.4" height="30.2" fill="#f4f4f2" stroke="#dcdcd8" stroke-width="0.8"/><rect x="411.4" y="632.8" width="41.4" height="19.2" fill="#eceef0"/><rect x="475" y="659" width="39" height="116" fill="#3f8ad6"/><rect x="475" y="659" width="10" height="116" fill="#2f70b8"/><circle cx="502.0" cy="669.7" r="8.0" fill="url(#scr)" stroke="#555" stroke-width="0.8"/><path d="M497.2,674.5 L506.8,664.9" stroke="#777" stroke-width="1.2"/><circle cx="481" cy="669.7" r="1.3" fill="#111"/><circle cx="502.0" cy="692.0" r="8.0" fill="url(#scr)" stroke="#555" stroke-width="0.8"/><path d="M497.2,696.8 L506.8,687.2" stroke="#777" stroke-width="1.2"/><circle cx="481" cy="692.0" r="1.3" fill="#111"/><circle cx="502.0" cy="714.3" r="8.0" fill="url(#scr)" stroke="#555" stroke-width="0.8"/><path d="M497.2,719.1 L506.8,709.5" stroke="#777" stroke-width="1.2"/><circle cx="481" cy="714.3" r="1.3" fill="#111"/><circle cx="502.0" cy="736.6" r="8.0" fill="url(#scr)" stroke="#555" stroke-width="0.8"/><path d="M497.2,741.4 L506.8,731.8" stroke="#777" stroke-width="1.2"/><circle cx="481" cy="736.6" r="1.3" fill="#111"/><circle cx="502.0" cy="758.9" r="8.0" fill="url(#scr)" stroke="#555" stroke-width="0.8"/><path d="M497.2,763.7 L506.8,754.1" stroke="#777" stroke-width="1.2"/><circle cx="481" cy="758.9" r="1.3" fill="#111"/><rect x="494" y="680" width="16" height="2" fill="#222"/><rect x="494" y="725.5" width="16" height="2" fill="#222"/><rect x="475" y="703" width="39" height="1.5" fill="#2a5f98"/><rect x="125.8" y="701" width="26.8" height="36.5" fill="#f4f4f2" stroke="#dcdcd8" stroke-width="0.8"/><rect x="129.8" y="707.0" width="18.8" height="25.5" fill="#eceef0"/><rect x="121" y="703.0" width="5" height="5" fill="none" stroke="#eee" stroke-width="1"/><rect x="121" y="730.0" width="5" height="5" fill="none" stroke="#eee" stroke-width="1"/><rect x="125.8" y="738.7" width="26.8" height="36.5" fill="#f4f4f2" stroke="#dcdcd8" stroke-width="0.8"/><rect x="129.8" y="744.7" width="18.8" height="25.5" fill="#eceef0"/><rect x="121" y="740.7" width="5" height="5" fill="none" stroke="#eee" stroke-width="1"/><rect x="121" y="767.7" width="5" height="5" fill="none" stroke="#eee" stroke-width="1"/><rect x="125.8" y="776.3" width="26.8" height="36.5" fill="#f4f4f2" stroke="#dcdcd8" stroke-width="0.8"/><rect x="129.8" y="782.3" width="18.8" height="25.5" fill="#eceef0"/><rect x="121" y="778.3" width="5" height="5" fill="none" stroke="#eee" stroke-width="1"/><rect x="121" y="805.3" width="5" height="5" fill="none" stroke="#eee" stroke-width="1"/><circle cx="188" cy="797.7" r="8.6" fill="#e8e8e0" opacity="0.5"/><circle cx="188" cy="797.7" r="7" fill="#d82020"/><circle cx="186" cy="795" r="2.2" fill="#f89090"/><rect x="198.8" y="768.7" width="30.1" height="46.3" fill="#ec6e66"/><rect x="201.8" y="782" width="24.1" height="19" fill="#e4524c"/><rect x="203.3" y="783.8" width="7.5" height="16" fill="#f6d8d4"/><rect x="215.3" y="783.8" width="7.5" height="16" fill="#f6d8d4"/><rect x="203.3" y="790" width="7.5" height="9.5" fill="#fbf6f5"/><rect x="215.3" y="784" width="7.5" height="8" fill="#fbf6f5"/><text x="213.9" y="782" font-family="Liberation Sans" font-size="10" fill="#fff" text-anchor="middle" transform="rotate(180 213.9 777.5)">1 2</text><text x="213.9" y="813" font-family="Liberation Sans" font-size="10.5" fill="#fff" text-anchor="middle">NO</text><rect x="230.0" y="768.7" width="29.0" height="46.3" fill="#ec6e66"/><rect x="233.0" y="782" width="23.0" height="19" fill="#e4524c"/><rect x="234.5" y="783.8" width="7.5" height="16" fill="#f6d8d4"/><rect x="246.5" y="783.8" width="7.5" height="16" fill="#f6d8d4"/><rect x="234.5" y="790" width="7.5" height="9.5" fill="#fbf6f5"/><rect x="246.5" y="784" width="7.5" height="8" fill="#fbf6f5"/><text x="244.5" y="782" font-family="Liberation Sans" font-size="10" fill="#fff" text-anchor="middle" transform="rotate(180 244.5 777.5)">1 2</text><text x="244.5" y="813" font-family="Liberation Sans" font-size="10.5" fill="#fff" text-anchor="middle">NO</text><rect x="260.0" y="768.7" width="28.0" height="46.3" fill="#ec6e66"/><rect x="263.0" y="782" width="22.0" height="19" fill="#e4524c"/><rect x="264.5" y="783.8" width="7.5" height="16" fill="#f6d8d4"/><rect x="276.5" y="783.8" width="7.5" height="16" fill="#f6d8d4"/><rect x="264.5" y="790" width="7.5" height="9.5" fill="#fbf6f5"/><rect x="276.5" y="784" width="7.5" height="8" fill="#fbf6f5"/><text x="274.0" y="782" font-family="Liberation Sans" font-size="10" fill="#fff" text-anchor="middle" transform="rotate(180 274.0 777.5)">1 2</text><text x="274.0" y="813" font-family="Liberation Sans" font-size="10.5" fill="#fff" text-anchor="middle">NO</text><rect x="289.0" y="768.7" width="30.0" height="46.3" fill="#ec6e66"/><rect x="292.0" y="782" width="24.0" height="19" fill="#e4524c"/><rect x="293.5" y="783.8" width="7.5" height="16" fill="#f6d8d4"/><rect x="305.5" y="783.8" width="7.5" height="16" fill="#f6d8d4"/><rect x="293.5" y="790" width="7.5" height="9.5" fill="#fbf6f5"/><rect x="305.5" y="784" width="7.5" height="8" fill="#fbf6f5"/><text x="304.0" y="782" font-family="Liberation Sans" font-size="10" fill="#fff" text-anchor="middle" transform="rotate(180 304.0 777.5)">1 2</text><text x="304.0" y="813" font-family="Liberation Sans" font-size="10.5" fill="#fff" text-anchor="middle">NO</text><rect x="333.3" y="786.7" width="59.1" height="29" fill="#f4f4f2" stroke="#dcdcd8" stroke-width="0.8"/><rect x="337.3" y="792.7" width="51.1" height="18.0" fill="#eceef0"/><rect x="409.6" y="784.5" width="50.4" height="30.1" fill="#f4f4f2" stroke="#dcdcd8" stroke-width="0.8"/><rect x="413.6" y="790.5" width="42.4" height="19.1" fill="#eceef0"/><ellipse cx="332.7" cy="733" rx="31.7" ry="38.7" fill="none" stroke="#f6240e" stroke-width="2.8"/><rect x="674.8" y="708.6" width="115" height="306" fill="url(#matp)"/><rect x="679.8" y="714" width="110" height="297.4" fill="#1c8f70"/><g stroke="#34b48a" stroke-width="2.4" fill="none"><path d="M700,905 L700,950 L720,990 L760,990"/><path d="M760,915 L760,945 L775,955"/><path d="M688,780 L700,770 L705,770"/><path d="M770,790 L785,805 L785,830"/><path d="M700,880 L715,865"/><path d="M720,950 L730,950 L737,960"/></g><circle cx="693.6" cy="726.6" r="9.5" fill="#ffffff" opacity="0.85"/><circle cx="693.6" cy="726.6" r="8" fill="#d6d4cc"/><circle cx="777.2" cy="726.6" r="9.5" fill="#ffffff" opacity="0.85"/><circle cx="777.2" cy="726.6" r="8" fill="#d6d4cc"/><circle cx="694.8" cy="998.7" r="9.5" fill="#ffffff" opacity="0.85"/><circle cx="694.8" cy="998.7" r="8" fill="#d6d4cc"/><circle cx="779.0" cy="997.8" r="9.5" fill="#ffffff" opacity="0.85"/><circle cx="779.0" cy="997.8" r="8" fill="#d6d4cc"/><circle cx="685.8" cy="749.2" r="3.2" fill="#c8c8c0" stroke="#e0e0e0" stroke-width="0.8"/><circle cx="697.5" cy="749.2" r="3.2" fill="#c8c8c0" stroke="#e0e0e0" stroke-width="0.8"/><circle cx="685.8" cy="771.0" r="3.2" fill="#c8c8c0" stroke="#e0e0e0" stroke-width="0.8"/><circle cx="697.5" cy="771.0" r="3.2" fill="#c8c8c0" stroke="#e0e0e0" stroke-width="0.8"/><path d="M681,743 A9,9 0 0 1 703,744 M681,777 A9,9 0 0 0 703,776" fill="none" stroke="#e8e8e8" stroke-width="0.8"/><rect x="710" y="739.8" width="53" height="37.5" fill="#5fb2e4"/><rect x="710" y="762" width="53" height="15.3" fill="#55a4d8"/><circle cx="726.4" cy="755.5" r="7.5" fill="url(#scr)" stroke="#555" stroke-width="0.8"/><path d="M721.9,760.0 L730.9,751.0" stroke="#777" stroke-width="1.2"/><circle cx="750.6" cy="755.5" r="7.5" fill="url(#scr)" stroke="#555" stroke-width="0.8"/><path d="M746.1,760.0 L755.1,751.0" stroke="#777" stroke-width="1.2"/><rect x="738" y="748" width="1.8" height="14" fill="#111"/><circle cx="727" cy="769.5" r="1.4" fill="#111"/><circle cx="751" cy="769.5" r="1.4" fill="#111"/><text x="737" y="736" font-family="Liberation Mono" font-size="7" fill="#d0d8d0" text-anchor="middle" transform="rotate(180 737 733)">tracks</text><rect x="765" y="744" width="11" height="24" fill="none" stroke="#f0f0f0" stroke-width="1"/><rect x="767.5" y="748" width="6" height="15" fill="#2a2a2a"/><rect x="699" y="782" width="35" height="12" fill="none" stroke="#f0f0f0" stroke-width="1"/><rect x="707" y="783" width="18" height="9.5" fill="#2e2e2e"/><rect x="699" y="797" width="35" height="12" fill="none" stroke="#f0f0f0" stroke-width="1"/><rect x="707" y="797.7" width="17" height="10" fill="#2e2e2e"/><rect x="752" y="782" width="13.5" height="31" fill="none" stroke="#f0f0f0" stroke-width="1"/><rect x="753.7" y="787.5" width="10.3" height="20.3" fill="#2e2e2e"/><rect x="682.7" y="813.3" width="33.6" height="60.3" fill="#f3f3f1"/><rect x="688" y="820" width="22" height="46" fill="#e9eaec"/><rect x="727.8" y="817.8" width="27.2" height="96.5" fill="none" stroke="#f2f2f2" stroke-width="1.1"/><rect x="718" y="824.0" width="28" height="1.8" fill="#e8e8e8"/><circle cx="720" cy="824.0" r="3" fill="#cfcfcf" stroke="#eee" stroke-width="0.6"/><circle cx="744" cy="828.0" r="2.6" fill="none" stroke="#e0e0e0" stroke-width="0.9"/><rect x="718" y="836.0" width="28" height="1.8" fill="#e8e8e8"/><circle cx="720" cy="836.0" r="3" fill="#cfcfcf" stroke="#eee" stroke-width="0.6"/><circle cx="744" cy="840.0" r="2.6" fill="none" stroke="#e0e0e0" stroke-width="0.9"/><rect x="718" y="848.0" width="28" height="1.8" fill="#e8e8e8"/><circle cx="720" cy="848.0" r="3" fill="#cfcfcf" stroke="#eee" stroke-width="0.6"/><circle cx="744" cy="852.0" r="2.6" fill="none" stroke="#e0e0e0" stroke-width="0.9"/><rect x="718" y="860.0" width="28" height="1.8" fill="#e8e8e8"/><circle cx="720" cy="860.0" r="3" fill="#cfcfcf" stroke="#eee" stroke-width="0.6"/><circle cx="744" cy="864.0" r="2.6" fill="none" stroke="#e0e0e0" stroke-width="0.9"/><rect x="718" y="872.0" width="28" height="1.8" fill="#e8e8e8"/><circle cx="720" cy="872.0" r="3" fill="#cfcfcf" stroke="#eee" stroke-width="0.6"/><circle cx="744" cy="876.0" r="2.6" fill="none" stroke="#e0e0e0" stroke-width="0.9"/><rect x="718" y="884.0" width="28" height="1.8" fill="#e8e8e8"/><circle cx="720" cy="884.0" r="3" fill="#cfcfcf" stroke="#eee" stroke-width="0.6"/><circle cx="744" cy="888.0" r="2.6" fill="none" stroke="#e0e0e0" stroke-width="0.9"/><rect x="718" y="896.0" width="28" height="1.8" fill="#e8e8e8"/><circle cx="720" cy="896.0" r="3" fill="#cfcfcf" stroke="#eee" stroke-width="0.6"/><circle cx="744" cy="900.0" r="2.6" fill="none" stroke="#e0e0e0" stroke-width="0.9"/><rect x="718" y="908.0" width="28" height="1.8" fill="#e8e8e8"/><circle cx="720" cy="908.0" r="3" fill="#cfcfcf" stroke="#eee" stroke-width="0.6"/><circle cx="744" cy="912.0" r="2.6" fill="none" stroke="#e0e0e0" stroke-width="0.9"/><rect x="746" y="819.7" width="25.6" height="93.9" fill="#262626"/><rect x="750" y="822" width="10" height="88" fill="#3a3a3a"/><rect x="770.3" y="820" width="12.7" height="90" fill="#e6e6e6"/><rect x="775" y="870" width="4" height="20" fill="#fff"/><rect x="775" y="818" width="9" height="8" fill="#c89070"/><rect x="782.4" y="833.6" width="9.6" height="18.4" fill="#333"/><rect x="782.4" y="878.7" width="9.6" height="17.8" fill="#333"/><rect x="693" y="877" width="14" height="27" fill="none" stroke="#f0f0f0" stroke-width="1"/><rect x="696" y="882" width="8" height="17" fill="#2a2a2a"/><rect x="694" y="919" width="14" height="32" fill="none" stroke="#f0f0f0" stroke-width="1"/><rect x="695.7" y="924.8" width="11" height="17" fill="#2a2a2a"/><rect x="708" y="919" width="14" height="32" fill="none" stroke="#f0f0f0" stroke-width="1"/><rect x="709" y="924.8" width="11.3" height="17" fill="#2a2a2a"/><circle cx="739" cy="931.5" r="10.5" fill="#d4d4ce" stroke="#333" stroke-width="1.2"/><rect x="692" y="954" width="28" height="27" fill="none" stroke="#f0f0f0" stroke-width="1"/><circle cx="706.7" cy="967.2" r="13" fill="#d0d0ca" stroke="#2a2a2a" stroke-width="1.5"/><rect x="735" y="955" width="22" height="24" fill="none" stroke="#f0f0f0" stroke-width="1"/><rect x="739" y="958.7" width="9.3" height="18.7" fill="#2f2f2f"/><rect x="760" y="918" width="11" height="20" fill="none" stroke="#f0f0f0" stroke-width="1"/><rect x="762" y="921" width="7" height="12" fill="#c8b090"/><rect x="781" y="914" width="9" height="22" fill="none" stroke="#f0f0f0" stroke-width="1"/><rect x="781" y="943" width="9" height="24" fill="none" stroke="#f0f0f0" stroke-width="1"/><circle cx="774.7" cy="973.2" r="9.3" fill="#e54a38"/><circle cx="772" cy="970" r="3" fill="#f08070"/><text x="740" y="1003" font-family="Liberation Mono" font-weight="bold" font-size="9.5" fill="#e8f0ea" text-anchor="middle" transform="rotate(180 740 999.5)">slave board</text><path d="M77,520 L77,548 C78,572 92,590 122,618" fill="none" stroke="#34404a" stroke-width="5.8"/><path d="M77,520 L77,548 C78,572 92,590 122,618" fill="none" stroke="#7f9bb0" stroke-width="3.4"/><path d="M104,597 C110,604 116,611 122,618" fill="none" stroke="#1d252b" stroke-width="5.8"/><rect x="73" y="517" width="8" height="12" fill="#8fb0c8" stroke="#3b4650" stroke-width="1"/><path d="M60,447 L88,446.6 C92,447 94,449 95.6,452 L95.6,514 L68,517 L54.5,497 L53.7,455 C54,450 57,447 60,447 Z" fill="#8fb2d0" stroke="#2b3540" stroke-width="1.6"/><path d="M72,458.3 L95.6,458.3 L95.6,516.9 L66.4,516.9 L66.4,464 C66.4,460 69,458.3 72,458.3 Z" fill="#9cbcd8" stroke="#2b3540" stroke-width="1.4"/><path d="M90.8,451.5 L104.4,455 L104.4,471 L95.6,473 L90.8,470 Z" fill="#8fb2d0" stroke="#2b3540" stroke-width="1.2"/><rect x="98.6" y="454.4" width="12.6" height="5.9" fill="#8fb2d0" stroke="#2b3540" stroke-width="1.1"/><rect x="102.5" y="463" width="15.5" height="6" fill="#8fb2d0" stroke="#2b3540" stroke-width="1.1"/><path d="M122,443.7 L152.2,467 L155,469 L155,539.6 L152.2,538.3 L122,507 Z" fill="#fdfdfd" stroke="#262626" stroke-width="1.5"/><path d="M152.2,467 L152.2,538.3" stroke="#262626" stroke-width="1.2"/><path d="M126,455 L149,472 L149,494 L126,477 Z M126,482 L149,499 L149,530 L126,504 Z" fill="#fff" stroke="#262626" stroke-width="1.3"/><path d="M132,470 L132,478 M140,474 L140,483 M132,496 L132,503 M140,501 L140,509" stroke="#262626" stroke-width="1.5"/><g fill="none" stroke="#0f30f4" stroke-width="3.1"><path d="M607.3,13.7 H964.6" stroke-dasharray="11 9.36"/><path d="M953.2,13.7 H964.7 V25.4" stroke-linejoin="miter"/><path d="M964.7,35.2 V514.4" stroke-dasharray="10.4 9.96"/><path d="M664.2,521.7 H958" stroke-dasharray="11 9.35"/><path d="M595.8,12.2 V24 M595.8,34.2 V42.2"/><path d="M363.6,454 V521.7 H654.4" stroke-linejoin="miter"/><path d="M649.5,521.7 V805.4 H443" stroke-linejoin="miter"/><path d="M733.8,477.8 V749" stroke-width="3.3"/><path d="M364.2,798.5 V865.4 M364.2,862.3 H702"/></g><path d="M79,252 L76,258 L76,276 L72,278" fill="none" stroke="#e2dcd4" stroke-width="2.2"/><circle cx="72.5" cy="278.5" r="1.6" fill="#6a9ab0"/><path d="M942.5,256 L944.5,262 L944.5,274 L948,276.5" fill="none" stroke="#e2dcd4" stroke-width="2.2"/><circle cx="948.5" cy="277" r="1.6" fill="#6a9ab0"/><rect x="609.4" y="64.0" width="5" height="6" fill="#e8e2da" stroke="#b8b0a8" stroke-width="0.6"/><circle cx="611.9" cy="70.5" r="2.6" fill="#3f8fa8"/><rect x="647.7" y="63.3" width="5" height="6" fill="#e8e2da" stroke="#b8b0a8" stroke-width="0.6"/><circle cx="650.2" cy="69.8" r="2.6" fill="#3f8fa8"/><rect x="584.75" y="25.4" width="22.7" height="42.8" rx="11.3" fill="none" stroke="#121212" stroke-width="3.0"/><rect x="352.6" y="425.4" width="23.4" height="43" rx="11.7" fill="none" stroke="#121212" stroke-width="3.1"/><rect x="521.2" y="83.35" width="219.7" height="49.65" rx="24.8" fill="none" stroke="#f6240e" stroke-width="4.9" stroke-dasharray="14.5 12.6" stroke-dashoffset="18"/><rect x="265.7" y="361" width="220.85" height="50" rx="25" fill="none" stroke="#f6240e" stroke-width="4.9" stroke-dasharray="14.3 12.6" stroke-dashoffset="16.7"/><path d="M411.5,584.0 L384.6,616.5" stroke="#f6240e" stroke-width="3.5"/><path d="M375.0,628.0 L379.3,609.5 L392.4,620.3 Z" fill="#f6240e"/><path d="M585.0,716.3 L524.0,716.3" stroke="#f6240e" stroke-width="3.2"/><path d="M511.0,716.3 L526.0,708.8 L526.0,723.8 Z" fill="#f6240e"/><path d="M175.0,848.0 L283.4,763.1" stroke="#f6240e" stroke-width="3.5"/><path d="M295.2,753.8 L287.1,771.0 L276.6,757.6 Z" fill="#f6240e"/><path d="M303.7,947.0 L303.7,829.0" stroke="#f6240e" stroke-width="3.3"/><path d="M303.7,816.0 L311.7,831.0 L295.7,831.0 Z" fill="#f6240e"/><path d="M836.8,751.2 L754.1,663.9" stroke="#f6240e" stroke-width="3.5"/><path d="M743.8,653.0 L761.7,659.5 L749.3,671.2 Z" fill="#f6240e"/><g font-family="Liberation Sans" font-weight="bold" fill="#f6240e" ><text x="19.0" y="46.6" font-size="33.4" text-anchor="start">wiring of station mode:</text><text x="630.8" y="116.2" font-size="19.8" text-anchor="middle">station</text><text x="376.0" y="393.2" font-size="19.8" text-anchor="middle">station</text><text x="189.3" y="562.0" font-size="20.0" text-anchor="middle">power supply</text><text x="189.0" y="586.0" font-size="20.1" text-anchor="middle">6V to 24V DC/AC</text><text x="468.4" y="574.0" font-size="20.2" text-anchor="middle">power to broadcast etc…</text><text x="574.2" y="672.5" font-size="20.1" text-anchor="middle">2 aspects</text><text x="574.4" y="696.0" font-size="20.1" text-anchor="middle">signal only</text><text x="873.0" y="551.0" font-size="20.3" text-anchor="middle">parallel sensor to</text><text x="872.5" y="574.0" font-size="20.3" text-anchor="middle">many stations</text><text x="905.9" y="776.3" font-size="20.1" text-anchor="middle">control power to tracks</text><text x="160.0" y="869.2" font-size="20.2" text-anchor="middle">set mode to MS</text><text x="304.0" y="980.4" font-size="20.2" text-anchor="middle">set the stop time</text></g></svg></body></html>
